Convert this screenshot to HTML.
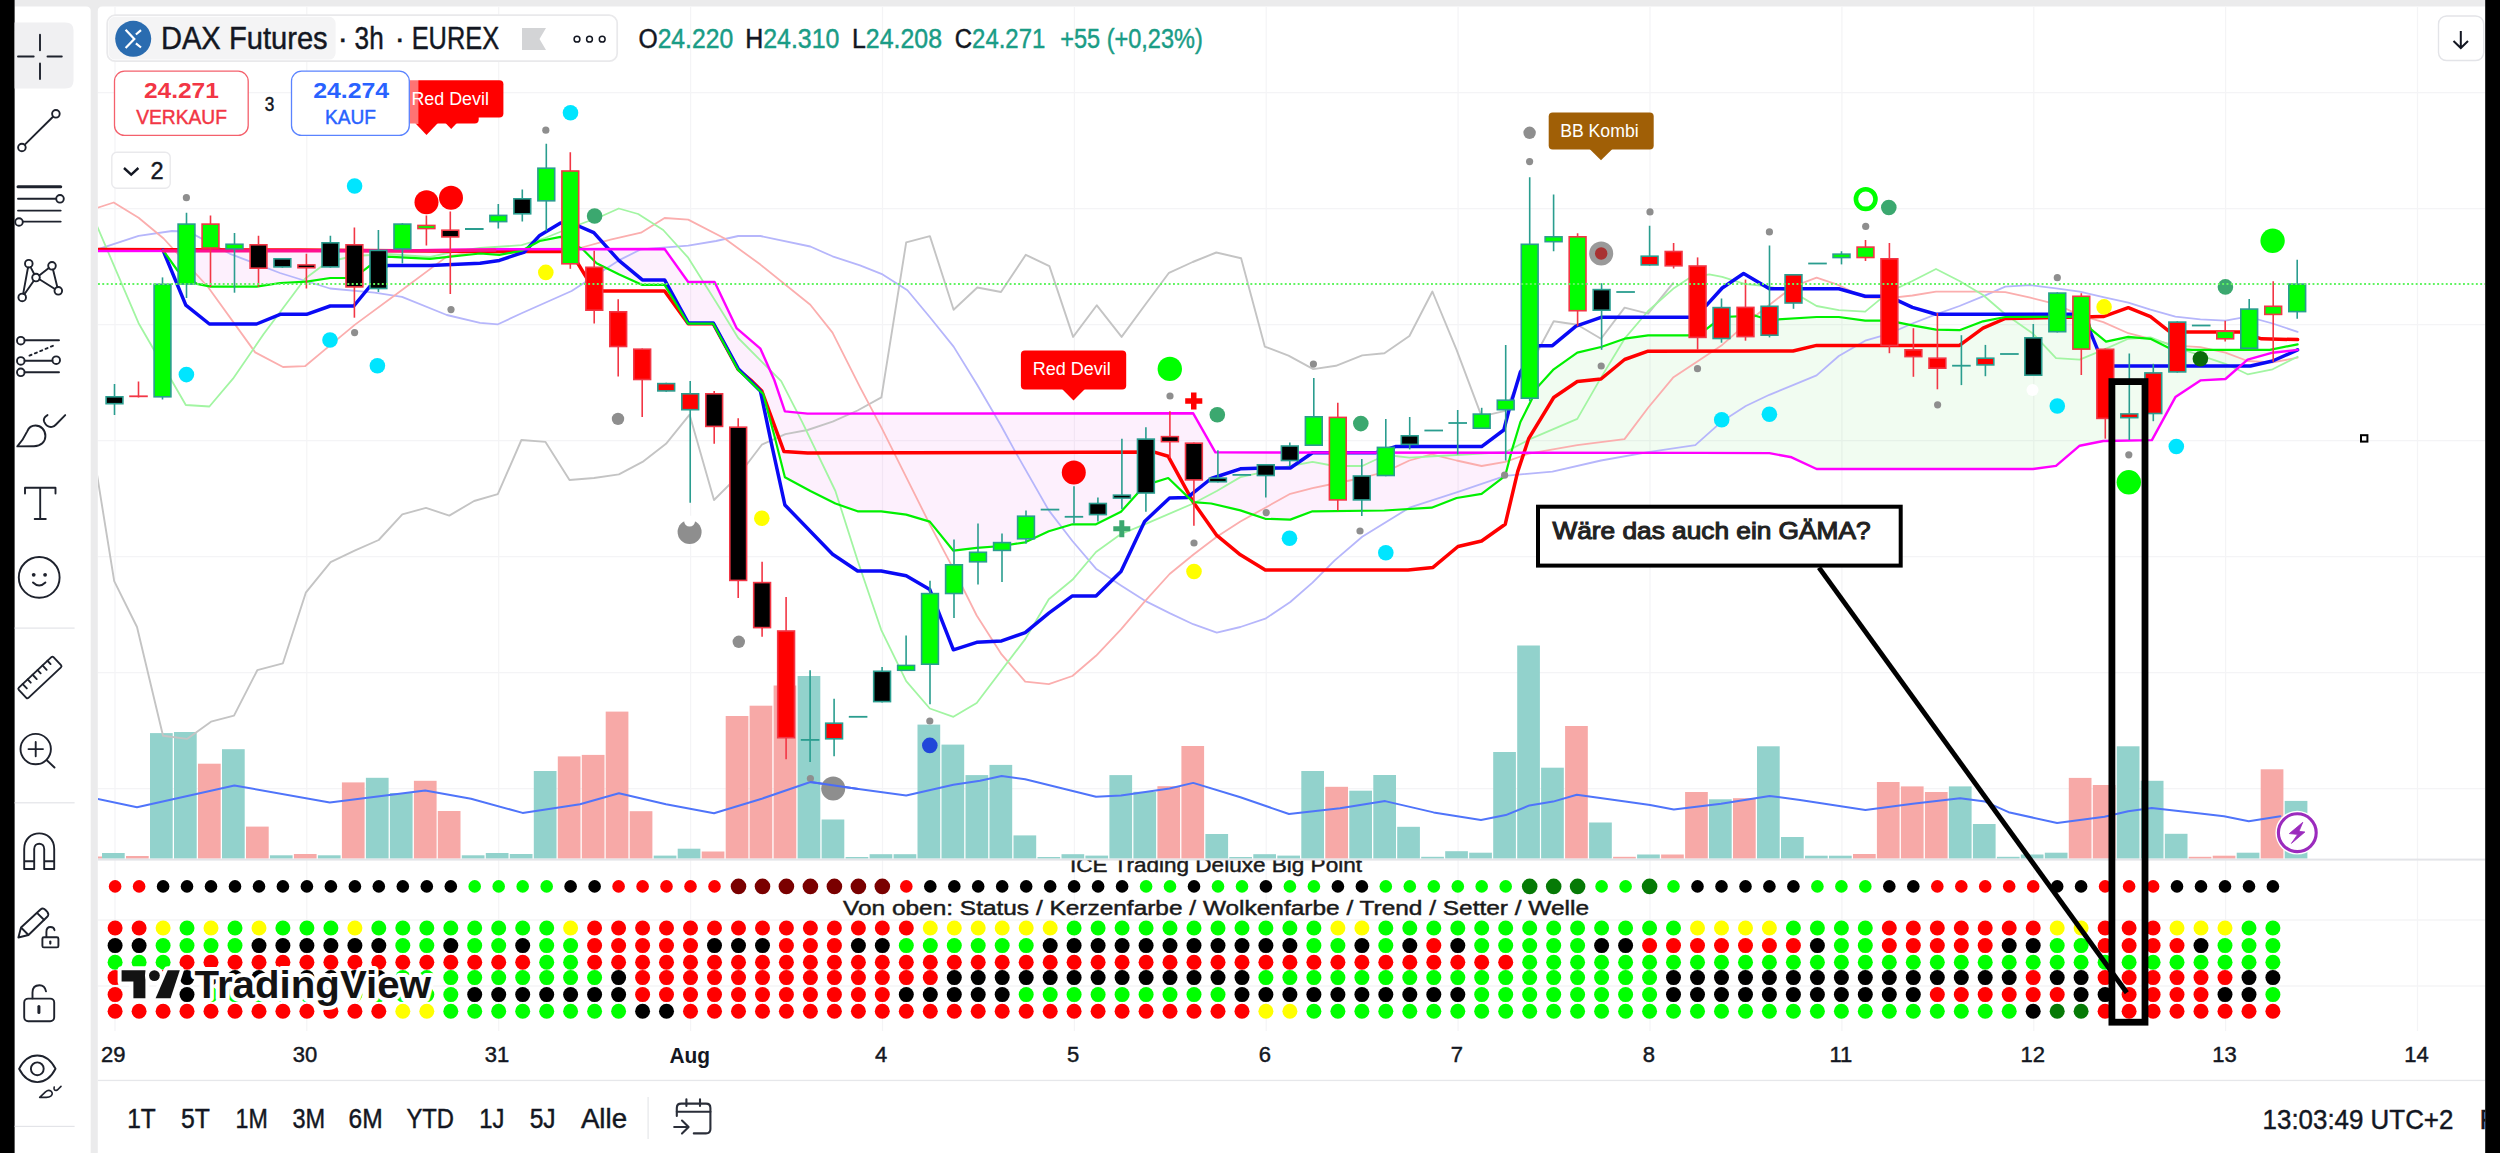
<!DOCTYPE html>
<html><head><meta charset="utf-8"><title>DAX Futures chart</title>
<style>html,body{margin:0;padding:0;background:#ebebec;overflow:hidden}svg{display:block}text{font-family:"Liberation Sans",sans-serif}</style>
</head><body>
<svg width="2500" height="1153" viewBox="0 0 2500 1153" font-family="Liberation Sans, sans-serif">
<rect x="0" y="0" width="2500" height="1153" fill="#ebebec"/>
<path d="M14.6 6.6 H86.2 Q90.7 6.6 90.7 11.1 V1153 H14.6 Z" fill="#fff"/>
<path d="M102.3 6.6 H2485.2 V1153 H97.8 V11.1 Q97.8 6.6 102.3 6.6 Z" fill="#fff"/>
<defs>
<clipPath id="main"><rect x="98" y="7" width="2387.2" height="852.5"/></clipPath>
<clipPath id="ind"><rect x="98" y="860.5" width="2387.2" height="170"/></clipPath>
<clipPath id="chart"><rect x="98" y="7" width="2387.2" height="1146"/></clipPath>
<clipPath id="belowM"><polygon points="97.0,251.0 380.0,250.7 495.0,249.2 664.6,249.0 688.2,282.0 714.6,282.0 736.8,328.4 760.4,348.7 774.3,380.0 784.9,411.4 807.6,413.6 1193.2,413.3 1215.4,452.4 1700.0,452.9 1769.4,453.1 1791.6,457.3 1816.6,469.0 2033.0,469.0 2056.0,465.9 2079.7,445.7 2103.3,441.0 2151.9,440.1 2175.4,397.1 2200.4,380.4 2225.4,379.0 2247.6,359.6 2272.6,352.7 2297.6,349.9 2297.6,900.0 97.0,900.0"/></clipPath>
<clipPath id="aboveM"><polygon points="97.0,251.0 380.0,250.7 495.0,249.2 664.6,249.0 688.2,282.0 714.6,282.0 736.8,328.4 760.4,348.7 774.3,380.0 784.9,411.4 807.6,413.6 1193.2,413.3 1215.4,452.4 1700.0,452.9 1769.4,453.1 1791.6,457.3 1816.6,469.0 2033.0,469.0 2056.0,465.9 2079.7,445.7 2103.3,441.0 2151.9,440.1 2175.4,397.1 2200.4,380.4 2225.4,379.0 2247.6,359.6 2272.6,352.7 2297.6,349.9 2297.6,0.0 97.0,0.0"/></clipPath>
</defs>
<g clip-path="url(#chart)">
<line x1="115.0" y1="7" x2="115.0" y2="1031" stroke="#f4f4f6" stroke-width="1.2"/>
<line x1="306.8" y1="7" x2="306.8" y2="1031" stroke="#f4f4f6" stroke-width="1.2"/>
<line x1="498.7" y1="7" x2="498.7" y2="1031" stroke="#f4f4f6" stroke-width="1.2"/>
<line x1="690.6" y1="7" x2="690.6" y2="1031" stroke="#f4f4f6" stroke-width="1.2"/>
<line x1="882.5" y1="7" x2="882.5" y2="1031" stroke="#f4f4f6" stroke-width="1.2"/>
<line x1="1074.4" y1="7" x2="1074.4" y2="1031" stroke="#f4f4f6" stroke-width="1.2"/>
<line x1="1266.2" y1="7" x2="1266.2" y2="1031" stroke="#f4f4f6" stroke-width="1.2"/>
<line x1="1458.1" y1="7" x2="1458.1" y2="1031" stroke="#f4f4f6" stroke-width="1.2"/>
<line x1="1650.0" y1="7" x2="1650.0" y2="1031" stroke="#f4f4f6" stroke-width="1.2"/>
<line x1="1841.9" y1="7" x2="1841.9" y2="1031" stroke="#f4f4f6" stroke-width="1.2"/>
<line x1="2033.8" y1="7" x2="2033.8" y2="1031" stroke="#f4f4f6" stroke-width="1.2"/>
<line x1="2225.6" y1="7" x2="2225.6" y2="1031" stroke="#f4f4f6" stroke-width="1.2"/>
<line x1="2417.5" y1="7" x2="2417.5" y2="1031" stroke="#f4f4f6" stroke-width="1.2"/>
<line x1="98" y1="92.6" x2="2485" y2="92.6" stroke="#f4f4f6" stroke-width="1.3"/>
<line x1="98" y1="208.6" x2="2485" y2="208.6" stroke="#f4f4f6" stroke-width="1.3"/>
<line x1="98" y1="324.6" x2="2485" y2="324.6" stroke="#f4f4f6" stroke-width="1.3"/>
<line x1="98" y1="440.6" x2="2485" y2="440.6" stroke="#f4f4f6" stroke-width="1.3"/>
<line x1="98" y1="556.6" x2="2485" y2="556.6" stroke="#f4f4f6" stroke-width="1.3"/>
<line x1="98" y1="672.6" x2="2485" y2="672.6" stroke="#f4f4f6" stroke-width="1.3"/>
<line x1="98" y1="788.6" x2="2485" y2="788.6" stroke="#f4f4f6" stroke-width="1.3"/>
<line x1="98" y1="920.0" x2="2485" y2="920.0" stroke="#f4f4f6" stroke-width="1.3"/>
<line x1="98" y1="986.0" x2="2485" y2="986.0" stroke="#f4f4f6" stroke-width="1.3"/>
</g>
<g clip-path="url(#main)">
<rect x="102.0" y="853.0" width="22.7" height="5.6" fill="#92d2cc"/>
<rect x="126.0" y="856.0" width="22.7" height="2.6" fill="#f7a9a7"/>
<rect x="150.0" y="733.1" width="22.7" height="125.5" fill="#92d2cc"/>
<rect x="174.0" y="732.0" width="22.7" height="126.6" fill="#92d2cc"/>
<rect x="198.0" y="763.7" width="22.7" height="94.9" fill="#f7a9a7"/>
<rect x="222.0" y="749.2" width="22.7" height="109.4" fill="#92d2cc"/>
<rect x="246.0" y="826.6" width="22.7" height="32.0" fill="#f7a9a7"/>
<rect x="269.9" y="855.3" width="22.7" height="3.3" fill="#92d2cc"/>
<rect x="293.9" y="854.0" width="22.7" height="4.6" fill="#f7a9a7"/>
<rect x="317.9" y="855.3" width="22.7" height="3.3" fill="#92d2cc"/>
<rect x="341.9" y="782.4" width="22.7" height="76.2" fill="#f7a9a7"/>
<rect x="365.9" y="777.8" width="22.7" height="80.8" fill="#92d2cc"/>
<rect x="389.9" y="793.0" width="22.7" height="65.6" fill="#92d2cc"/>
<rect x="413.9" y="780.8" width="22.7" height="77.8" fill="#f7a9a7"/>
<rect x="437.8" y="811.0" width="22.7" height="47.6" fill="#f7a9a7"/>
<rect x="461.8" y="855.3" width="22.7" height="3.3" fill="#92d2cc"/>
<rect x="485.8" y="853.0" width="22.7" height="5.6" fill="#92d2cc"/>
<rect x="509.8" y="854.0" width="22.7" height="4.6" fill="#92d2cc"/>
<rect x="533.8" y="771.0" width="22.7" height="87.6" fill="#92d2cc"/>
<rect x="557.8" y="756.4" width="22.7" height="102.2" fill="#f7a9a7"/>
<rect x="581.8" y="754.9" width="22.7" height="103.7" fill="#f7a9a7"/>
<rect x="605.7" y="711.6" width="22.7" height="147.0" fill="#f7a9a7"/>
<rect x="629.7" y="811.2" width="22.7" height="47.4" fill="#f7a9a7"/>
<rect x="653.7" y="855.6" width="22.7" height="3.0" fill="#92d2cc"/>
<rect x="677.7" y="848.7" width="22.7" height="9.9" fill="#92d2cc"/>
<rect x="701.7" y="851.5" width="22.7" height="7.1" fill="#f7a9a7"/>
<rect x="725.7" y="716.0" width="22.7" height="142.6" fill="#f7a9a7"/>
<rect x="749.6" y="705.7" width="22.7" height="152.9" fill="#f7a9a7"/>
<rect x="773.6" y="685.5" width="22.7" height="173.1" fill="#f7a9a7"/>
<rect x="797.6" y="676.0" width="22.7" height="182.6" fill="#92d2cc"/>
<rect x="821.6" y="819.5" width="22.7" height="39.1" fill="#92d2cc"/>
<rect x="845.6" y="857.0" width="22.7" height="1.6" fill="#92d2cc"/>
<rect x="869.6" y="854.2" width="22.7" height="4.4" fill="#92d2cc"/>
<rect x="893.6" y="854.2" width="22.7" height="4.4" fill="#92d2cc"/>
<rect x="917.5" y="724.6" width="22.7" height="134.0" fill="#92d2cc"/>
<rect x="941.5" y="744.6" width="22.7" height="114.0" fill="#92d2cc"/>
<rect x="965.5" y="775.1" width="22.7" height="83.5" fill="#92d2cc"/>
<rect x="989.5" y="764.9" width="22.7" height="93.7" fill="#92d2cc"/>
<rect x="1013.5" y="835.4" width="22.7" height="23.2" fill="#92d2cc"/>
<rect x="1037.5" y="857.0" width="22.7" height="1.6" fill="#92d2cc"/>
<rect x="1061.5" y="854.2" width="22.7" height="4.4" fill="#92d2cc"/>
<rect x="1085.4" y="855.6" width="22.7" height="3.0" fill="#92d2cc"/>
<rect x="1109.4" y="775.1" width="22.7" height="83.5" fill="#92d2cc"/>
<rect x="1133.4" y="791.8" width="22.7" height="66.8" fill="#92d2cc"/>
<rect x="1157.4" y="786.2" width="22.7" height="72.4" fill="#f7a9a7"/>
<rect x="1181.4" y="746.0" width="22.7" height="112.6" fill="#f7a9a7"/>
<rect x="1205.4" y="834.0" width="22.7" height="24.6" fill="#92d2cc"/>
<rect x="1229.3" y="857.0" width="22.7" height="1.6" fill="#92d2cc"/>
<rect x="1253.3" y="854.2" width="22.7" height="4.4" fill="#92d2cc"/>
<rect x="1277.3" y="855.6" width="22.7" height="3.0" fill="#92d2cc"/>
<rect x="1301.3" y="771.0" width="22.7" height="87.6" fill="#92d2cc"/>
<rect x="1325.3" y="786.8" width="22.7" height="71.8" fill="#f7a9a7"/>
<rect x="1349.3" y="790.7" width="22.7" height="67.9" fill="#92d2cc"/>
<rect x="1373.3" y="775.0" width="22.7" height="83.6" fill="#92d2cc"/>
<rect x="1397.2" y="826.8" width="22.7" height="31.8" fill="#92d2cc"/>
<rect x="1421.2" y="856.8" width="22.7" height="1.8" fill="#92d2cc"/>
<rect x="1445.2" y="851.2" width="22.7" height="7.4" fill="#92d2cc"/>
<rect x="1469.2" y="852.7" width="22.7" height="5.9" fill="#92d2cc"/>
<rect x="1493.2" y="752.0" width="22.7" height="106.6" fill="#92d2cc"/>
<rect x="1517.2" y="645.5" width="22.7" height="213.1" fill="#92d2cc"/>
<rect x="1541.1" y="767.7" width="22.7" height="90.9" fill="#92d2cc"/>
<rect x="1565.1" y="726.0" width="22.7" height="132.6" fill="#f7a9a7"/>
<rect x="1589.1" y="822.5" width="22.7" height="36.1" fill="#92d2cc"/>
<rect x="1613.1" y="856.8" width="22.7" height="1.8" fill="#f7a9a7"/>
<rect x="1637.1" y="854.5" width="22.7" height="4.1" fill="#92d2cc"/>
<rect x="1661.1" y="854.5" width="22.7" height="4.1" fill="#f7a9a7"/>
<rect x="1685.1" y="792.0" width="22.7" height="66.6" fill="#f7a9a7"/>
<rect x="1709.0" y="799.3" width="22.7" height="59.3" fill="#92d2cc"/>
<rect x="1733.0" y="798.2" width="22.7" height="60.4" fill="#f7a9a7"/>
<rect x="1757.0" y="746.3" width="22.7" height="112.3" fill="#92d2cc"/>
<rect x="1781.0" y="837.0" width="22.7" height="21.6" fill="#92d2cc"/>
<rect x="1805.0" y="855.7" width="22.7" height="2.9" fill="#92d2cc"/>
<rect x="1829.0" y="855.7" width="22.7" height="2.9" fill="#92d2cc"/>
<rect x="1853.0" y="854.0" width="22.7" height="4.6" fill="#f7a9a7"/>
<rect x="1876.9" y="782.0" width="22.7" height="76.6" fill="#f7a9a7"/>
<rect x="1900.9" y="786.4" width="22.7" height="72.2" fill="#f7a9a7"/>
<rect x="1924.9" y="792.0" width="22.7" height="66.6" fill="#f7a9a7"/>
<rect x="1948.9" y="786.4" width="22.7" height="72.2" fill="#92d2cc"/>
<rect x="1972.9" y="824.0" width="22.7" height="34.6" fill="#92d2cc"/>
<rect x="1996.9" y="856.8" width="22.7" height="1.8" fill="#92d2cc"/>
<rect x="2020.8" y="854.5" width="22.7" height="4.1" fill="#92d2cc"/>
<rect x="2044.8" y="852.7" width="22.7" height="5.9" fill="#92d2cc"/>
<rect x="2068.8" y="777.9" width="22.7" height="80.7" fill="#f7a9a7"/>
<rect x="2092.8" y="785.0" width="22.7" height="73.6" fill="#f7a9a7"/>
<rect x="2116.8" y="746.3" width="22.7" height="112.3" fill="#92d2cc"/>
<rect x="2140.8" y="780.8" width="22.7" height="77.8" fill="#92d2cc"/>
<rect x="2164.8" y="833.8" width="22.7" height="24.8" fill="#92d2cc"/>
<rect x="2188.7" y="856.8" width="22.7" height="1.8" fill="#f7a9a7"/>
<rect x="2212.7" y="855.7" width="22.7" height="2.9" fill="#f7a9a7"/>
<rect x="2236.7" y="852.7" width="22.7" height="5.9" fill="#92d2cc"/>
<rect x="2260.7" y="769.3" width="22.7" height="89.3" fill="#f7a9a7"/>
<rect x="2284.7" y="800.9" width="22.7" height="57.7" fill="#92d2cc"/>
<rect x="98" y="856.5" width="4" height="2.1" fill="#f7a9a7"/>
<polygon points="97.0,250.2 163.0,250.2 177.5,270.5 197.0,283.8 210.8,286.6 256.6,286.6 280.2,283.0 306.6,281.6 330.2,278.0 353.8,278.0 369.0,266.3 387.0,256.6 430.0,258.8 480.0,253.5 499.4,254.9 521.6,250.7 539.7,241.0 560.5,236.8 582.7,249.3 596.6,263.2 618.8,274.3 642.4,284.9 664.6,284.9 688.2,323.7 713.2,323.7 738.2,370.0 763.2,393.9 774.3,435.5 784.9,477.2 810.4,491.0 835.4,503.5 857.6,511.3 881.2,511.3 906.2,514.6 929.8,521.6 953.4,550.7 976.7,547.9 1001.6,546.0 1025.2,542.3 1048.8,531.2 1072.4,524.3 1096.0,524.3 1121.0,511.8 1144.6,485.4 1168.2,478.0 1193.2,502.1 1211.2,503.5 1240.4,510.4 1265.3,518.8 1290.3,519.6 1312.5,511.3 1384.4,510.5 1431.6,507.7 1456.6,498.0 1481.6,493.8 1505.2,475.8 1512.1,449.4 1520.4,422.0 1538.5,385.9 1553.7,369.3 1577.3,352.6 1601.0,347.0 1624.6,338.7 1648.1,335.4 1689.8,335.4 1700.0,333.8 1722.2,317.0 1755.5,315.7 1769.4,320.0 1816.6,317.0 1838.8,317.0 1865.2,320.7 1888.8,320.7 1912.4,325.4 1936.0,329.6 1959.5,330.2 1983.0,321.3 2005.3,317.0 2086.6,316.6 2090.8,329.1 2106.0,341.6 2128.3,336.9 2150.5,338.8 2169.9,348.5 2192.1,349.9 2269.8,349.9 2297.6,344.3 2297.6,349.9 2272.6,352.7 2247.6,359.6 2225.4,379.0 2200.4,380.4 2175.4,397.1 2151.9,440.1 2103.3,441.0 2079.7,445.7 2056.0,465.9 2033.0,469.0 1816.6,469.0 1791.6,457.3 1769.4,453.1 1700.0,452.9 1215.4,452.4 1193.2,413.3 807.6,413.6 784.9,411.4 774.3,380.0 760.4,348.7 736.8,328.4 714.6,282.0 688.2,282.0 664.6,249.0 495.0,249.2 380.0,250.7 97.0,251.0" fill="rgb(221,5,221)" fill-opacity="0.06" clip-path="url(#belowM)"/>
<polygon points="97.0,250.2 163.0,250.2 177.5,270.5 197.0,283.8 210.8,286.6 256.6,286.6 280.2,283.0 306.6,281.6 330.2,278.0 353.8,278.0 369.0,266.3 387.0,256.6 430.0,258.8 480.0,253.5 499.4,254.9 521.6,250.7 539.7,241.0 560.5,236.8 582.7,249.3 596.6,263.2 618.8,274.3 642.4,284.9 664.6,284.9 688.2,323.7 713.2,323.7 738.2,370.0 763.2,393.9 774.3,435.5 784.9,477.2 810.4,491.0 835.4,503.5 857.6,511.3 881.2,511.3 906.2,514.6 929.8,521.6 953.4,550.7 976.7,547.9 1001.6,546.0 1025.2,542.3 1048.8,531.2 1072.4,524.3 1096.0,524.3 1121.0,511.8 1144.6,485.4 1168.2,478.0 1193.2,502.1 1211.2,503.5 1240.4,510.4 1265.3,518.8 1290.3,519.6 1312.5,511.3 1384.4,510.5 1431.6,507.7 1456.6,498.0 1481.6,493.8 1505.2,475.8 1512.1,449.4 1520.4,422.0 1538.5,385.9 1553.7,369.3 1577.3,352.6 1601.0,347.0 1624.6,338.7 1648.1,335.4 1689.8,335.4 1700.0,333.8 1722.2,317.0 1755.5,315.7 1769.4,320.0 1816.6,317.0 1838.8,317.0 1865.2,320.7 1888.8,320.7 1912.4,325.4 1936.0,329.6 1959.5,330.2 1983.0,321.3 2005.3,317.0 2086.6,316.6 2090.8,329.1 2106.0,341.6 2128.3,336.9 2150.5,338.8 2169.9,348.5 2192.1,349.9 2269.8,349.9 2297.6,344.3 2297.6,349.9 2272.6,352.7 2247.6,359.6 2225.4,379.0 2200.4,380.4 2175.4,397.1 2151.9,440.1 2103.3,441.0 2079.7,445.7 2056.0,465.9 2033.0,469.0 1816.6,469.0 1791.6,457.3 1769.4,453.1 1700.0,452.9 1215.4,452.4 1193.2,413.3 807.6,413.6 784.9,411.4 774.3,380.0 760.4,348.7 736.8,328.4 714.6,282.0 688.2,282.0 664.6,249.0 495.0,249.2 380.0,250.7 97.0,251.0" fill="rgb(21,205,21)" fill-opacity="0.06" clip-path="url(#aboveM)"/>
<polyline points="97.0,474.4 114.2,581.2 137.0,627.0 163.0,735.8 187.0,738.9 211.0,721.7 234.0,715.6 257.3,670.2 282.9,663.3 305.8,592.7 330.6,562.1 354.6,550.7 378.7,540.0 402.3,514.4 426.0,507.9 449.3,515.6 474.1,501.0 497.8,494.2 521.4,440.0 545.5,441.9 569.5,480.0 594.0,478.0 618.9,474.4 642.5,461.9 666.0,443.8 689.6,414.7 714.0,500.0 738.2,475.8 761.8,444.7 785.4,434.1 807.6,430.0 832.6,421.6 857.6,410.5 881.4,397.3 906.2,242.4 929.9,236.1 953.6,309.8 977.3,287.5 1001.0,292.0 1025.8,254.8 1049.4,266.1 1073.1,336.9 1096.8,305.3 1121.6,336.9 1145.0,305.0 1169.0,272.8 1192.7,262.0 1216.3,252.5 1241.1,258.2 1264.8,346.6 1288.5,355.6 1313.3,369.1 1335.9,365.8 1362.2,355.4 1384.4,353.2 1409.4,336.0 1432.4,291.5 1456.6,349.8 1481.6,416.4 1505.2,410.9 1520.0,377.6 1538.5,349.8 1553.7,321.2 1577.3,324.8 1601.0,338.7 1624.6,307.6 1648.1,313.7 1673.1,283.2" fill="none" stroke="#c4c4c4" stroke-width="1.9" stroke-linejoin="round" stroke-linecap="round" />
<polyline points="97.0,249.6 138.6,235.8 172.0,231.0 188.6,231.6 230.0,253.8 280.0,273.0 330.0,288.5 374.6,292.7 402.0,296.8 446.8,315.0 480.0,322.9 498.0,324.3 521.6,313.2 571.6,291.0 618.8,260.4 641.0,249.3 688.2,245.7 716.0,241.0 738.2,236.0 760.4,236.0 810.3,246.5 832.5,256.3 860.0,265.4 882.6,274.4 907.4,290.2 929.9,317.3 953.6,346.6 977.3,385.0 1001.0,425.5 1015.5,452.1 1048.8,510.4 1072.4,541.0 1096.0,568.7 1121.0,585.4 1144.6,600.6 1169.6,613.1 1193.2,624.2 1216.8,632.6 1240.4,627.0 1265.3,618.7 1290.3,602.0 1312.5,582.6 1334.7,560.4 1362.2,536.8 1409.4,507.7 1456.6,492.4 1505.2,475.8 1552.4,471.6 1601.0,460.5 1648.1,452.2 1695.3,445.2 1722.2,421.2 1745.8,406.0 1769.4,394.8 1793.0,385.1 1816.6,375.4 1838.8,356.0 1865.2,340.7 1888.8,333.8 1912.4,323.5 1936.0,314.3 1959.5,306.0 1983.0,296.3 2005.3,286.6 2030.3,285.2 2056.0,288.3 2079.7,291.6 2103.3,297.2 2128.3,302.7 2150.5,309.7 2175.4,316.6 2200.4,319.4 2225.4,320.7 2247.6,316.6 2272.6,323.5 2297.6,331.9" fill="none" stroke="#b6b6fb" stroke-width="1.8" stroke-linejoin="round" stroke-linecap="round" />
<polyline points="97.0,208.0 113.7,202.5 138.6,217.7 163.6,238.5 208.0,287.0 255.2,352.4 283.0,367.0 305.0,366.2 330.0,345.4 355.0,324.6 402.0,290.0 446.8,256.6 480.0,250.7 521.6,251.5 580.0,248.0 610.5,239.6 641.0,232.7 664.6,218.0 688.2,219.6 724.3,238.2 760.4,264.6 810.3,304.8 832.5,332.6 860.0,387.2 881.2,427.2 906.2,477.2 929.8,524.3 953.4,568.8 976.7,615.5 1001.6,654.4 1025.2,681.6 1048.8,684.1 1072.4,676.0 1096.0,655.8 1121.0,629.4 1144.6,601.6 1169.6,574.0 1193.2,554.8 1216.8,536.8 1240.4,521.5 1265.3,507.7 1290.3,493.8 1312.5,488.2 1334.7,483.5 1362.0,478.0 1385.8,471.6 1409.4,460.5 1431.6,454.4 1456.6,460.5 1481.6,466.0 1505.2,461.9 1528.8,453.6 1577.3,445.2 1624.5,439.1 1648.1,407.8 1673.1,377.6 1698.1,360.9 1722.2,344.9 1755.5,315.7 1793.0,286.6 1816.6,277.7 1838.8,285.2 1865.2,297.7 1888.8,298.2 1912.4,295.5 1936.0,291.6 1983.0,291.6 2005.3,292.1 2030.3,297.7 2056.0,304.1 2079.7,315.2 2103.3,322.1 2128.3,333.2 2150.5,338.8 2175.4,345.7 2200.4,347.1 2225.4,352.7 2247.6,361.0 2272.6,362.4 2297.6,357.7" fill="none" stroke="#fbaeae" stroke-width="1.8" stroke-linejoin="round" stroke-linecap="round" />
<polyline points="97.0,226.0 138.6,323.2 185.8,405.0 209.4,406.5 233.0,378.7 263.5,334.3 305.0,278.8 327.4,262.0 353.8,256.0 387.0,254.0 430.0,257.0 452.0,252.0 480.0,248.0 521.6,245.2 545.0,238.0 570.0,228.0 602.0,216.0 618.8,208.5 638.2,214.0 663.2,230.0 688.2,257.7 716.0,302.0 738.2,338.0 760.4,360.4 781.2,381.2 802.0,421.6 835.4,491.0 857.6,560.4 881.2,629.8 906.2,681.2 929.8,708.5 953.4,716.8 976.7,703.0 1025.2,639.1 1048.8,599.3 1072.4,579.8 1096.0,552.0 1121.0,534.0 1144.6,524.3 1193.2,503.5 1216.8,491.0 1240.4,477.1 1265.3,471.6 1290.3,466.0 1312.5,461.9 1334.7,466.0 1362.2,466.0 1385.8,455.0 1409.4,457.7 1456.6,455.0 1505.2,452.2 1528.8,439.7 1577.3,418.9 1601.0,377.6 1624.6,338.7 1648.1,311.0 1673.1,288.8 1689.8,277.7 1709.2,274.3 1722.2,276.9 1744.4,283.8 1769.4,286.6 1793.0,292.1 1816.6,306.0 1838.8,310.2 1865.2,311.6 1888.8,292.1 1912.4,281.0 1936.0,269.0 1959.5,281.0 1983.0,295.0 2005.3,314.3 2032.5,333.2 2056.0,358.2 2079.7,359.6 2103.3,349.9 2128.3,338.8 2150.5,337.4 2175.4,347.1 2200.4,355.4 2225.4,363.8 2247.6,374.3 2272.6,369.3 2297.6,356.8" fill="none" stroke="#a2f5a2" stroke-width="1.8" stroke-linejoin="round" stroke-linecap="round" />
<polyline points="97.0,249.5 300.0,250.0 495.0,251.4 570.6,251.5 594.7,291.0 664.6,291.0 688.2,323.7 713.2,323.7 738.2,369.5 750.7,380.0 761.8,391.0 784.0,451.6 807.6,453.0 1154.3,452.1 1168.2,456.3 1193.2,502.1 1216.8,535.4 1240.4,554.8 1265.3,570.1 1408.0,570.1 1433.0,567.4 1458.0,546.5 1481.6,541.0 1505.2,524.3 1517.7,471.6 1528.8,438.3 1553.7,397.5 1577.3,381.5 1601.0,379.0 1624.6,359.5 1648.1,351.2 1793.0,351.0 1816.6,345.4 1959.5,345.4 1983.0,328.2 2005.3,318.5 2103.3,316.6 2128.3,307.7 2150.5,316.6 2169.9,331.9 2239.3,331.9 2261.5,338.8 2297.6,339.6" fill="none" stroke="#ff0000" stroke-width="3.5" stroke-linejoin="round" stroke-linecap="round" />
<polyline points="163.0,250.2 185.8,305.2 209.4,324.0 256.6,324.0 280.2,314.3 306.6,314.3 330.2,306.0 353.8,306.0 387.0,265.5 430.0,265.5 480.0,263.2 499.4,260.4 524.4,252.0 539.7,235.4 560.5,223.0 571.6,223.0 593.8,232.7 618.8,260.4 642.4,279.9 664.6,279.9 688.2,322.9 713.2,322.9 738.2,368.7 760.4,390.9 771.5,443.8 784.9,505.0 832.6,554.3 857.6,571.0 881.2,571.0 906.2,575.7 929.8,589.6 953.4,649.8 976.7,642.3 1001.6,640.9 1025.2,632.6 1048.8,613.1 1072.4,595.9 1096.0,595.9 1121.0,571.5 1144.6,521.5 1169.6,497.9 1187.6,497.4 1211.2,478.5 1240.4,468.8 1265.3,468.0 1290.3,468.0 1312.5,452.7 1376.0,452.7 1395.5,446.6 1481.6,446.6 1503.8,430.0 1509.0,410.0 1520.4,372.0 1538.5,345.7 1552.4,345.7 1576.0,326.2 1601.0,317.3 1689.8,317.3 1706.4,305.4 1722.2,288.0 1743.6,273.5 1769.4,288.8 1838.8,288.8 1865.2,296.3 1888.8,296.3 1912.4,307.4 1936.0,314.3 2086.0,314.3 2090.8,333.2 2097.7,349.9 2113.0,366.0 2250.4,366.0 2272.6,361.0 2297.6,349.9" fill="none" stroke="#0a0af5" stroke-width="3.5" stroke-linejoin="round" stroke-linecap="round" />
<polyline points="163.0,250.2 177.5,270.5 197.0,283.8 210.8,286.6 256.6,286.6 280.2,283.0 306.6,281.6 330.2,278.0 353.8,278.0 369.0,266.3 387.0,256.6 430.0,258.8 480.0,253.5 499.4,254.9 521.6,250.7 539.7,241.0 560.5,236.8 582.7,249.3 596.6,263.2 618.8,274.3 642.4,284.9 664.6,284.9 688.2,323.7 713.2,323.7 738.2,370.0 763.2,393.9 774.3,435.5 784.9,477.2 810.4,491.0 835.4,503.5 857.6,511.3 881.2,511.3 906.2,514.6 929.8,521.6 953.4,550.7 976.7,547.9 1001.6,546.0 1025.2,542.3 1048.8,531.2 1072.4,524.3 1096.0,524.3 1121.0,511.8 1144.6,485.4 1168.2,478.0 1193.2,502.1 1211.2,503.5 1240.4,510.4 1265.3,518.8 1290.3,519.6 1312.5,511.3 1384.4,510.5 1431.6,507.7 1456.6,498.0 1481.6,493.8 1505.2,475.8 1512.1,449.4 1520.4,422.0 1538.5,385.9 1553.7,369.3 1577.3,352.6 1601.0,347.0 1624.6,338.7 1648.1,335.4 1689.8,335.4 1700.0,333.8 1722.2,317.0 1755.5,315.7 1769.4,320.0 1816.6,317.0 1838.8,317.0 1865.2,320.7 1888.8,320.7 1912.4,325.4 1936.0,329.6 1959.5,330.2 1983.0,321.3 2005.3,317.0 2086.6,316.6 2090.8,329.1 2106.0,341.6 2128.3,336.9 2150.5,338.8 2169.9,348.5 2192.1,349.9 2269.8,349.9 2297.6,344.3" fill="none" stroke="#00f000" stroke-width="2.2" stroke-linejoin="round" stroke-linecap="round" />
<polyline points="97.0,251.0 380.0,250.7 495.0,249.2 664.6,249.0 688.2,282.0 714.6,282.0 736.8,328.4 760.4,348.7 774.3,380.0 784.9,411.4 807.6,413.6 1193.2,413.3 1215.4,452.4 1700.0,452.9 1769.4,453.1 1791.6,457.3 1816.6,469.0 2033.0,469.0 2056.0,465.9 2079.7,445.7 2103.3,441.0 2151.9,440.1 2175.4,397.1 2200.4,380.4 2225.4,379.0 2247.6,359.6 2272.6,352.7 2297.6,349.9" fill="none" stroke="#ff00ff" stroke-width="2.4" stroke-linejoin="round" stroke-linecap="round" />
<polyline points="163.0,251.0 380.0,250.8 495.0,250.2" fill="none" stroke="#ff1090" stroke-width="3.2" stroke-linejoin="round" stroke-linecap="round" />
<polyline points="97.0,798.8 137.0,807.2 234.4,785.4 329.8,802.6 425.2,790.4 471.0,798.8 522.6,812.9 580.0,804.3 618.9,793.2 666.0,804.3 714.0,813.2 761.8,798.7 810.4,782.0 858.4,789.0 906.2,795.4 953.4,784.8 980.0,780.7 1001.6,776.0 1025.2,779.3 1096.0,796.8 1121.0,795.4 1169.6,788.5 1193.2,782.9 1240.4,797.3 1289.0,814.0 1340.0,808.3 1385.1,801.1 1433.6,812.4 1481.0,820.0 1505.8,815.1 1529.4,805.4 1553.1,801.6 1576.8,794.8 1625.3,801.6 1650.1,804.9 1673.8,809.4 1721.1,803.8 1769.6,795.9 1800.0,800.0 1865.4,810.1 1912.8,803.8 1960.1,798.2 1985.0,801.6 2008.6,812.2 2057.1,823.0 2104.5,816.7 2128.2,811.3 2151.8,807.9 2200.3,813.5 2224.0,816.2 2248.8,821.2 2280.4,816.2" fill="none" stroke="#4f74fa" stroke-width="2" stroke-linejoin="round" stroke-linecap="round" />
<line x1="114.5" y1="384.0" x2="114.5" y2="415.0" stroke="#2a9d8f" stroke-width="1.6"/>
<rect x="106.1" y="396.8" width="16.8" height="6.9" fill="#000000" stroke="#2a9d8f" stroke-width="1.6"/>
<line x1="138.5" y1="381.5" x2="138.5" y2="397.5" stroke="#f23645" stroke-width="1.6"/>
<line x1="129.2" y1="396.3" x2="147.8" y2="396.3" stroke="#f23645" stroke-width="1.8"/>
<line x1="162.5" y1="277.4" x2="162.5" y2="399.5" stroke="#2a9d8f" stroke-width="1.6"/>
<rect x="154.1" y="284.3" width="16.8" height="112.5" fill="#00ff00" stroke="#2a9d8f" stroke-width="1.6"/>
<line x1="186.5" y1="212.7" x2="186.5" y2="298.0" stroke="#2a9d8f" stroke-width="1.6"/>
<rect x="178.1" y="224.1" width="16.8" height="60.0" fill="#00ff00" stroke="#2a9d8f" stroke-width="1.6"/>
<line x1="210.5" y1="215.5" x2="210.5" y2="287.0" stroke="#f23645" stroke-width="1.6"/>
<rect x="202.1" y="224.1" width="16.8" height="23.9" fill="#00ff00" stroke="#f23645" stroke-width="1.6"/>
<line x1="234.5" y1="233.0" x2="234.5" y2="292.7" stroke="#2a9d8f" stroke-width="1.6"/>
<rect x="226.0" y="244.2" width="17" height="4.6" fill="#00ff00" stroke="#2a9d8f" stroke-width="1.5"/>
<line x1="258.5" y1="235.8" x2="258.5" y2="287.0" stroke="#f23645" stroke-width="1.6"/>
<rect x="250.1" y="244.8" width="16.8" height="23.4" fill="#000000" stroke="#f23645" stroke-width="1.6"/>
<line x1="282.4" y1="258.0" x2="282.4" y2="267.7" stroke="#2a9d8f" stroke-width="1.6"/>
<rect x="274.0" y="258.8" width="16.8" height="8.1" fill="#000000" stroke="#2a9d8f" stroke-width="1.6"/>
<line x1="306.4" y1="253.8" x2="306.4" y2="288.5" stroke="#f23645" stroke-width="1.6"/>
<rect x="297.9" y="264.9" width="17" height="2.9" fill="#000000" stroke="#f23645" stroke-width="1.5"/>
<line x1="330.4" y1="235.8" x2="330.4" y2="267.7" stroke="#2a9d8f" stroke-width="1.6"/>
<rect x="322.0" y="242.8" width="16.8" height="24.1" fill="#000000" stroke="#2a9d8f" stroke-width="1.6"/>
<line x1="354.4" y1="227.4" x2="354.4" y2="317.7" stroke="#f23645" stroke-width="1.6"/>
<rect x="346.0" y="244.8" width="16.8" height="42.1" fill="#000000" stroke="#f23645" stroke-width="1.6"/>
<line x1="378.4" y1="230.0" x2="378.4" y2="292.0" stroke="#2a9d8f" stroke-width="1.6"/>
<rect x="370.0" y="250.4" width="16.8" height="38.1" fill="#000000" stroke="#2a9d8f" stroke-width="1.6"/>
<line x1="402.4" y1="223.3" x2="402.4" y2="263.5" stroke="#2a9d8f" stroke-width="1.6"/>
<rect x="394.0" y="224.1" width="16.8" height="24.7" fill="#00ff00" stroke="#2a9d8f" stroke-width="1.6"/>
<line x1="426.4" y1="215.5" x2="426.4" y2="245.5" stroke="#f23645" stroke-width="1.6"/>
<rect x="417.9" y="225.4" width="17" height="3.2" fill="#00ff00" stroke="#f23645" stroke-width="1.5"/>
<line x1="450.3" y1="211.6" x2="450.3" y2="294.0" stroke="#f23645" stroke-width="1.6"/>
<rect x="441.9" y="230.2" width="16.8" height="6.7" fill="#000000" stroke="#f23645" stroke-width="1.6"/>
<line x1="465.0" y1="229.0" x2="483.6" y2="229.0" stroke="#2a9d8f" stroke-width="1.8"/>
<line x1="498.3" y1="204.0" x2="498.3" y2="228.5" stroke="#2a9d8f" stroke-width="1.6"/>
<rect x="489.9" y="215.4" width="16.8" height="6.2" fill="#00ff00" stroke="#2a9d8f" stroke-width="1.6"/>
<line x1="522.3" y1="189.6" x2="522.3" y2="221.6" stroke="#2a9d8f" stroke-width="1.6"/>
<rect x="513.9" y="198.8" width="16.8" height="15.0" fill="#000000" stroke="#2a9d8f" stroke-width="1.6"/>
<line x1="546.3" y1="143.8" x2="546.3" y2="231.3" stroke="#2a9d8f" stroke-width="1.6"/>
<rect x="537.9" y="168.2" width="16.8" height="32.6" fill="#00ff00" stroke="#2a9d8f" stroke-width="1.6"/>
<line x1="570.3" y1="152.2" x2="570.3" y2="268.8" stroke="#f23645" stroke-width="1.6"/>
<rect x="561.9" y="171.0" width="16.8" height="92.8" fill="#00ff00" stroke="#f23645" stroke-width="1.6"/>
<line x1="594.2" y1="250.7" x2="594.2" y2="323.4" stroke="#f23645" stroke-width="1.6"/>
<rect x="585.9" y="267.3" width="16.8" height="42.9" fill="#ff0000" stroke="#f23645" stroke-width="1.6"/>
<line x1="618.2" y1="299.3" x2="618.2" y2="376.5" stroke="#f23645" stroke-width="1.6"/>
<rect x="609.8" y="311.8" width="16.8" height="34.7" fill="#ff0000" stroke="#f23645" stroke-width="1.6"/>
<line x1="642.2" y1="348.4" x2="642.2" y2="417.0" stroke="#f23645" stroke-width="1.6"/>
<rect x="633.8" y="349.2" width="16.8" height="30.3" fill="#ff0000" stroke="#f23645" stroke-width="1.6"/>
<line x1="666.2" y1="382.8" x2="666.2" y2="391.7" stroke="#2a9d8f" stroke-width="1.6"/>
<rect x="657.8" y="383.6" width="16.8" height="7.3" fill="#ff0000" stroke="#2a9d8f" stroke-width="1.6"/>
<line x1="690.2" y1="381.0" x2="690.2" y2="502.7" stroke="#2a9d8f" stroke-width="1.6"/>
<rect x="681.8" y="393.8" width="16.8" height="15.9" fill="#ff0000" stroke="#2a9d8f" stroke-width="1.6"/>
<line x1="714.2" y1="391.0" x2="714.2" y2="443.8" stroke="#f23645" stroke-width="1.6"/>
<rect x="705.8" y="393.8" width="16.8" height="32.6" fill="#000000" stroke="#f23645" stroke-width="1.6"/>
<line x1="738.2" y1="418.3" x2="738.2" y2="598.0" stroke="#f23645" stroke-width="1.6"/>
<rect x="729.8" y="427.2" width="16.8" height="153.2" fill="#000000" stroke="#f23645" stroke-width="1.6"/>
<line x1="762.1" y1="561.8" x2="762.1" y2="636.8" stroke="#f23645" stroke-width="1.6"/>
<rect x="753.7" y="582.6" width="16.8" height="45.0" fill="#000000" stroke="#f23645" stroke-width="1.6"/>
<line x1="786.1" y1="597.0" x2="786.1" y2="759.3" stroke="#f23645" stroke-width="1.6"/>
<rect x="777.7" y="631.0" width="16.8" height="106.7" fill="#ff0000" stroke="#f23645" stroke-width="1.6"/>
<line x1="810.1" y1="670.2" x2="810.1" y2="762.0" stroke="#2a9d8f" stroke-width="1.6"/>
<line x1="800.8" y1="739.9" x2="819.4" y2="739.9" stroke="#2a9d8f" stroke-width="1.8"/>
<line x1="834.1" y1="698.8" x2="834.1" y2="756.3" stroke="#2a9d8f" stroke-width="1.6"/>
<rect x="825.7" y="723.2" width="16.8" height="15.6" fill="#ff0000" stroke="#2a9d8f" stroke-width="1.6"/>
<line x1="848.8" y1="716.8" x2="867.4" y2="716.8" stroke="#2a9d8f" stroke-width="1.8"/>
<line x1="882.1" y1="666.9" x2="882.1" y2="702.4" stroke="#2a9d8f" stroke-width="1.6"/>
<rect x="873.7" y="671.3" width="16.8" height="30.3" fill="#000000" stroke="#2a9d8f" stroke-width="1.6"/>
<line x1="906.1" y1="635.5" x2="906.1" y2="671.0" stroke="#2a9d8f" stroke-width="1.6"/>
<rect x="897.6" y="665.4" width="17" height="4.9" fill="#00ff00" stroke="#2a9d8f" stroke-width="1.5"/>
<line x1="930.0" y1="580.8" x2="930.0" y2="704.3" stroke="#2a9d8f" stroke-width="1.6"/>
<rect x="921.6" y="593.6" width="16.8" height="70.6" fill="#00ff00" stroke="#2a9d8f" stroke-width="1.6"/>
<line x1="954.0" y1="539.6" x2="954.0" y2="618.0" stroke="#2a9d8f" stroke-width="1.6"/>
<rect x="945.6" y="564.8" width="16.8" height="28.7" fill="#00ff00" stroke="#2a9d8f" stroke-width="1.6"/>
<line x1="978.0" y1="523.5" x2="978.0" y2="584.5" stroke="#2a9d8f" stroke-width="1.6"/>
<rect x="969.6" y="552.3" width="16.8" height="9.5" fill="#00ff00" stroke="#2a9d8f" stroke-width="1.6"/>
<line x1="1002.0" y1="533.5" x2="1002.0" y2="582.0" stroke="#2a9d8f" stroke-width="1.6"/>
<rect x="993.6" y="542.6" width="16.8" height="7.8" fill="#00ff00" stroke="#2a9d8f" stroke-width="1.6"/>
<line x1="1026.0" y1="510.4" x2="1026.0" y2="543.7" stroke="#2a9d8f" stroke-width="1.6"/>
<rect x="1017.6" y="516.2" width="16.8" height="22.6" fill="#00ff00" stroke="#2a9d8f" stroke-width="1.6"/>
<line x1="1040.7" y1="509.6" x2="1059.3" y2="509.6" stroke="#2a9d8f" stroke-width="1.8"/>
<line x1="1074.0" y1="486.3" x2="1074.0" y2="523.5" stroke="#2a9d8f" stroke-width="1.6"/>
<line x1="1064.7" y1="516.8" x2="1083.2" y2="516.8" stroke="#2a9d8f" stroke-width="1.8"/>
<line x1="1097.9" y1="497.4" x2="1097.9" y2="521.5" stroke="#2a9d8f" stroke-width="1.6"/>
<rect x="1089.5" y="503.5" width="16.8" height="11.1" fill="#000000" stroke="#2a9d8f" stroke-width="1.6"/>
<line x1="1121.9" y1="438.8" x2="1121.9" y2="509.0" stroke="#2a9d8f" stroke-width="1.6"/>
<rect x="1113.4" y="495.1" width="17" height="3.0" fill="#000000" stroke="#2a9d8f" stroke-width="1.5"/>
<line x1="1145.9" y1="427.2" x2="1145.9" y2="511.8" stroke="#2a9d8f" stroke-width="1.6"/>
<rect x="1137.5" y="439.1" width="16.8" height="53.9" fill="#000000" stroke="#2a9d8f" stroke-width="1.6"/>
<line x1="1169.9" y1="411.3" x2="1169.9" y2="457.7" stroke="#f23645" stroke-width="1.6"/>
<rect x="1161.4" y="436.6" width="17" height="5.1" fill="#000000" stroke="#f23645" stroke-width="1.5"/>
<line x1="1193.9" y1="442.4" x2="1193.9" y2="525.7" stroke="#f23645" stroke-width="1.6"/>
<rect x="1185.5" y="443.2" width="16.8" height="36.7" fill="#000000" stroke="#f23645" stroke-width="1.6"/>
<line x1="1217.9" y1="450.2" x2="1217.9" y2="482.6" stroke="#2a9d8f" stroke-width="1.6"/>
<rect x="1209.4" y="478.1" width="17" height="3.7" fill="#000000" stroke="#2a9d8f" stroke-width="1.5"/>
<line x1="1232.5" y1="474.9" x2="1251.1" y2="474.9" stroke="#2a9d8f" stroke-width="1.8"/>
<line x1="1265.8" y1="464.0" x2="1265.8" y2="497.4" stroke="#2a9d8f" stroke-width="1.6"/>
<rect x="1257.4" y="464.8" width="16.8" height="10.7" fill="#000000" stroke="#2a9d8f" stroke-width="1.6"/>
<line x1="1289.8" y1="442.4" x2="1289.8" y2="466.0" stroke="#2a9d8f" stroke-width="1.6"/>
<rect x="1281.4" y="446.0" width="16.8" height="14.5" fill="#000000" stroke="#2a9d8f" stroke-width="1.6"/>
<line x1="1313.8" y1="378.0" x2="1313.8" y2="446.0" stroke="#2a9d8f" stroke-width="1.6"/>
<rect x="1305.4" y="416.8" width="16.8" height="28.4" fill="#00ff00" stroke="#2a9d8f" stroke-width="1.6"/>
<line x1="1337.8" y1="402.7" x2="1337.8" y2="510.4" stroke="#f23645" stroke-width="1.6"/>
<rect x="1329.4" y="417.4" width="16.8" height="82.5" fill="#00ff00" stroke="#f23645" stroke-width="1.6"/>
<line x1="1361.8" y1="459.0" x2="1361.8" y2="516.0" stroke="#2a9d8f" stroke-width="1.6"/>
<rect x="1353.4" y="476.0" width="16.8" height="23.9" fill="#000000" stroke="#2a9d8f" stroke-width="1.6"/>
<line x1="1385.8" y1="418.9" x2="1385.8" y2="476.3" stroke="#2a9d8f" stroke-width="1.6"/>
<rect x="1377.4" y="447.4" width="16.8" height="28.1" fill="#00ff00" stroke="#2a9d8f" stroke-width="1.6"/>
<line x1="1409.7" y1="417.0" x2="1409.7" y2="449.4" stroke="#2a9d8f" stroke-width="1.6"/>
<rect x="1401.3" y="435.8" width="16.8" height="8.6" fill="#000000" stroke="#2a9d8f" stroke-width="1.6"/>
<line x1="1424.4" y1="430.5" x2="1443.0" y2="430.5" stroke="#2a9d8f" stroke-width="1.8"/>
<line x1="1457.7" y1="410.0" x2="1457.7" y2="454.4" stroke="#2a9d8f" stroke-width="1.6"/>
<line x1="1448.4" y1="423.0" x2="1467.0" y2="423.0" stroke="#2a9d8f" stroke-width="1.8"/>
<line x1="1481.7" y1="407.8" x2="1481.7" y2="429.0" stroke="#2a9d8f" stroke-width="1.6"/>
<rect x="1473.3" y="414.1" width="16.8" height="14.1" fill="#00ff00" stroke="#2a9d8f" stroke-width="1.6"/>
<line x1="1505.7" y1="345.0" x2="1505.7" y2="460.5" stroke="#2a9d8f" stroke-width="1.6"/>
<rect x="1497.3" y="400.2" width="16.8" height="9.5" fill="#00ff00" stroke="#2a9d8f" stroke-width="1.6"/>
<line x1="1529.7" y1="177.2" x2="1529.7" y2="401.2" stroke="#2a9d8f" stroke-width="1.6"/>
<rect x="1521.3" y="244.3" width="16.8" height="153.9" fill="#00ff00" stroke="#2a9d8f" stroke-width="1.6"/>
<line x1="1553.6" y1="194.4" x2="1553.6" y2="251.3" stroke="#2a9d8f" stroke-width="1.6"/>
<rect x="1545.1" y="236.8" width="17" height="4.9" fill="#00ff00" stroke="#2a9d8f" stroke-width="1.5"/>
<line x1="1577.6" y1="233.2" x2="1577.6" y2="326.2" stroke="#f23645" stroke-width="1.6"/>
<rect x="1569.2" y="236.8" width="16.8" height="73.9" fill="#00ff00" stroke="#f23645" stroke-width="1.6"/>
<line x1="1601.6" y1="283.2" x2="1601.6" y2="349.8" stroke="#2a9d8f" stroke-width="1.6"/>
<rect x="1593.2" y="289.6" width="16.8" height="20.6" fill="#000000" stroke="#2a9d8f" stroke-width="1.6"/>
<line x1="1616.3" y1="292.0" x2="1634.9" y2="292.0" stroke="#2a9d8f" stroke-width="1.8"/>
<line x1="1649.6" y1="225.7" x2="1649.6" y2="265.7" stroke="#2a9d8f" stroke-width="1.6"/>
<rect x="1641.2" y="256.2" width="16.8" height="8.7" fill="#ff0000" stroke="#2a9d8f" stroke-width="1.6"/>
<line x1="1673.6" y1="243.0" x2="1673.6" y2="268.5" stroke="#f23645" stroke-width="1.6"/>
<rect x="1665.2" y="251.5" width="16.8" height="14.3" fill="#ff0000" stroke="#f23645" stroke-width="1.6"/>
<line x1="1697.6" y1="257.4" x2="1697.6" y2="349.8" stroke="#f23645" stroke-width="1.6"/>
<rect x="1689.2" y="266.0" width="16.8" height="71.4" fill="#ff0000" stroke="#f23645" stroke-width="1.6"/>
<line x1="1721.5" y1="298.5" x2="1721.5" y2="342.7" stroke="#2a9d8f" stroke-width="1.6"/>
<rect x="1713.1" y="307.6" width="16.8" height="30.9" fill="#ff0000" stroke="#2a9d8f" stroke-width="1.6"/>
<line x1="1745.5" y1="279.6" x2="1745.5" y2="340.7" stroke="#f23645" stroke-width="1.6"/>
<rect x="1737.1" y="307.4" width="16.8" height="29.2" fill="#ff0000" stroke="#f23645" stroke-width="1.6"/>
<line x1="1769.5" y1="245.5" x2="1769.5" y2="337.4" stroke="#2a9d8f" stroke-width="1.6"/>
<rect x="1761.1" y="306.3" width="16.8" height="28.9" fill="#ff0000" stroke="#2a9d8f" stroke-width="1.6"/>
<line x1="1793.5" y1="274.0" x2="1793.5" y2="308.8" stroke="#2a9d8f" stroke-width="1.6"/>
<rect x="1785.1" y="274.8" width="16.8" height="28.2" fill="#ff0000" stroke="#2a9d8f" stroke-width="1.6"/>
<line x1="1808.2" y1="263.5" x2="1826.8" y2="263.5" stroke="#2a9d8f" stroke-width="1.8"/>
<line x1="1841.5" y1="251.3" x2="1841.5" y2="264.4" stroke="#2a9d8f" stroke-width="1.6"/>
<rect x="1833.0" y="254.1" width="17" height="3.5" fill="#00ff00" stroke="#2a9d8f" stroke-width="1.5"/>
<line x1="1865.5" y1="240.0" x2="1865.5" y2="261.0" stroke="#f23645" stroke-width="1.6"/>
<rect x="1857.1" y="247.1" width="16.8" height="10.4" fill="#00ff00" stroke="#f23645" stroke-width="1.6"/>
<line x1="1889.4" y1="243.0" x2="1889.4" y2="353.2" stroke="#f23645" stroke-width="1.6"/>
<rect x="1881.0" y="258.8" width="16.8" height="86.7" fill="#ff0000" stroke="#f23645" stroke-width="1.6"/>
<line x1="1913.4" y1="328.2" x2="1913.4" y2="376.8" stroke="#f23645" stroke-width="1.6"/>
<rect x="1905.0" y="349.8" width="16.8" height="6.8" fill="#ff0000" stroke="#f23645" stroke-width="1.6"/>
<line x1="1937.4" y1="313.0" x2="1937.4" y2="389.3" stroke="#f23645" stroke-width="1.6"/>
<rect x="1929.0" y="358.2" width="16.8" height="10.0" fill="#ff0000" stroke="#f23645" stroke-width="1.6"/>
<line x1="1961.4" y1="335.2" x2="1961.4" y2="385.1" stroke="#2a9d8f" stroke-width="1.6"/>
<line x1="1952.1" y1="365.7" x2="1970.7" y2="365.7" stroke="#2a9d8f" stroke-width="1.8"/>
<line x1="1985.4" y1="344.9" x2="1985.4" y2="376.2" stroke="#2a9d8f" stroke-width="1.6"/>
<rect x="1977.0" y="358.2" width="16.8" height="6.7" fill="#ff0000" stroke="#2a9d8f" stroke-width="1.6"/>
<line x1="2000.1" y1="354.0" x2="2018.7" y2="354.0" stroke="#2a9d8f" stroke-width="1.8"/>
<line x1="2033.3" y1="324.0" x2="2033.3" y2="376.0" stroke="#2a9d8f" stroke-width="1.6"/>
<rect x="2024.9" y="337.8" width="16.8" height="37.4" fill="#000000" stroke="#2a9d8f" stroke-width="1.6"/>
<line x1="2057.3" y1="292.3" x2="2057.3" y2="332.5" stroke="#2a9d8f" stroke-width="1.6"/>
<rect x="2048.9" y="293.1" width="16.8" height="38.6" fill="#00ff00" stroke="#2a9d8f" stroke-width="1.6"/>
<line x1="2081.3" y1="293.2" x2="2081.3" y2="375.0" stroke="#f23645" stroke-width="1.6"/>
<rect x="2072.9" y="296.3" width="16.8" height="52.8" fill="#00ff00" stroke="#f23645" stroke-width="1.6"/>
<line x1="2105.3" y1="348.5" x2="2105.3" y2="438.7" stroke="#f23645" stroke-width="1.6"/>
<rect x="2096.9" y="349.3" width="16.8" height="69.1" fill="#ff0000" stroke="#f23645" stroke-width="1.6"/>
<line x1="2129.3" y1="353.5" x2="2129.3" y2="440.0" stroke="#2a9d8f" stroke-width="1.6"/>
<rect x="2120.8" y="413.9" width="17" height="3.8" fill="#ff0000" stroke="#2a9d8f" stroke-width="1.5"/>
<line x1="2153.3" y1="363.8" x2="2153.3" y2="421.2" stroke="#2a9d8f" stroke-width="1.6"/>
<rect x="2144.9" y="372.9" width="16.8" height="40.6" fill="#ff0000" stroke="#2a9d8f" stroke-width="1.6"/>
<line x1="2177.3" y1="321.3" x2="2177.3" y2="372.7" stroke="#2a9d8f" stroke-width="1.6"/>
<rect x="2168.9" y="322.1" width="16.8" height="49.8" fill="#ff0000" stroke="#2a9d8f" stroke-width="1.6"/>
<line x1="2191.9" y1="325.5" x2="2210.5" y2="325.5" stroke="#2a9d8f" stroke-width="1.8"/>
<line x1="2225.2" y1="320.7" x2="2225.2" y2="341.6" stroke="#f23645" stroke-width="1.6"/>
<rect x="2216.8" y="331.3" width="16.8" height="7.5" fill="#00ff00" stroke="#f23645" stroke-width="1.6"/>
<line x1="2249.2" y1="299.0" x2="2249.2" y2="349.0" stroke="#2a9d8f" stroke-width="1.6"/>
<rect x="2240.8" y="309.1" width="16.8" height="39.1" fill="#00ff00" stroke="#2a9d8f" stroke-width="1.6"/>
<line x1="2273.2" y1="281.3" x2="2273.2" y2="361.8" stroke="#f23645" stroke-width="1.6"/>
<rect x="2264.8" y="306.3" width="16.8" height="8.1" fill="#00ff00" stroke="#f23645" stroke-width="1.6"/>
<line x1="2297.2" y1="259.7" x2="2297.2" y2="318.8" stroke="#2a9d8f" stroke-width="1.6"/>
<rect x="2288.8" y="284.1" width="16.8" height="27.5" fill="#00ff00" stroke="#2a9d8f" stroke-width="1.6"/>
<circle cx="186.4" cy="197.7" r="3.6" fill="#8e8e8e" />
<circle cx="354.6" cy="332.6" r="3.6" fill="#8e8e8e" />
<circle cx="451.0" cy="309.6" r="3.6" fill="#8e8e8e" />
<circle cx="545.8" cy="130.2" r="3.6" fill="#8e8e8e" />
<circle cx="810.4" cy="778.5" r="3.6" fill="#8e8e8e" />
<circle cx="929.8" cy="721.0" r="3.6" fill="#8e8e8e" />
<circle cx="1170.0" cy="396.0" r="3.6" fill="#8e8e8e" />
<circle cx="1194.0" cy="543.0" r="3.6" fill="#8e8e8e" />
<circle cx="1266.2" cy="512.6" r="3.6" fill="#8e8e8e" />
<circle cx="1313.4" cy="364.1" r="3.6" fill="#8e8e8e" />
<circle cx="1360.0" cy="531.0" r="3.6" fill="#8e8e8e" />
<circle cx="1529.6" cy="161.6" r="3.6" fill="#8e8e8e" />
<circle cx="1650.0" cy="211.9" r="3.6" fill="#8e8e8e" />
<circle cx="1601.2" cy="366.0" r="3.6" fill="#8e8e8e" />
<circle cx="1697.5" cy="368.7" r="3.6" fill="#8e8e8e" />
<circle cx="1504.6" cy="475.2" r="3.6" fill="#8e8e8e" />
<circle cx="1865.7" cy="226.4" r="3.6" fill="#8e8e8e" />
<circle cx="1769.4" cy="231.9" r="3.6" fill="#8e8e8e" />
<circle cx="2057.3" cy="277.7" r="3.6" fill="#8e8e8e" />
<circle cx="1937.6" cy="404.8" r="3.6" fill="#8e8e8e" />
<circle cx="2128.8" cy="454.8" r="3.6" fill="#8e8e8e" />
<circle cx="618.0" cy="418.9" r="6.2" fill="#8e8e8e" />
<circle cx="738.8" cy="641.8" r="6.2" fill="#8e8e8e" />
<circle cx="1529.6" cy="132.8" r="6.2" fill="#8e8e8e" />
<circle cx="354.6" cy="186.0" r="7.8" fill="#00e5ff" />
<circle cx="186.4" cy="374.6" r="7.8" fill="#00e5ff" />
<circle cx="330.0" cy="340.0" r="7.8" fill="#00e5ff" />
<circle cx="377.4" cy="365.7" r="7.8" fill="#00e5ff" />
<circle cx="570.5" cy="112.8" r="7.8" fill="#00e5ff" />
<circle cx="1289.5" cy="538.2" r="7.8" fill="#00e5ff" />
<circle cx="1385.8" cy="552.7" r="7.8" fill="#00e5ff" />
<circle cx="1721.7" cy="419.8" r="7.8" fill="#00e5ff" />
<circle cx="1769.4" cy="414.3" r="7.8" fill="#00e5ff" />
<circle cx="2057.3" cy="406.0" r="7.8" fill="#00e5ff" />
<circle cx="2176.3" cy="446.5" r="7.8" fill="#00e5ff" />
<circle cx="545.8" cy="272.4" r="7.8" fill="#ffff00" />
<circle cx="761.8" cy="518.2" r="7.8" fill="#ffff00" />
<circle cx="1194.0" cy="571.5" r="7.8" fill="#ffff00" />
<circle cx="2104.1" cy="306.9" r="7.8" fill="#ffff00" />
<circle cx="594.6" cy="216.0" r="7.8" fill="#3ba86f" />
<circle cx="1217.3" cy="414.7" r="7.8" fill="#3ba86f" />
<circle cx="1360.8" cy="423.6" r="7.8" fill="#3ba86f" />
<circle cx="1888.8" cy="207.5" r="7.8" fill="#3ba86f" />
<circle cx="2225.4" cy="286.9" r="7.8" fill="#3ba86f" />
<circle cx="2200.4" cy="358.8" r="7.8" fill="#0b6a0b" />
<circle cx="426.5" cy="202.2" r="12" fill="#ff0000" />
<circle cx="451.0" cy="197.7" r="12" fill="#ff0000" />
<circle cx="1073.8" cy="472.4" r="12" fill="#ff0000" />
<circle cx="1169.8" cy="368.9" r="12.2" fill="#00ff00" />
<circle cx="2272.6" cy="240.8" r="12.2" fill="#00ff00" />
<circle cx="2128.8" cy="482.3" r="12.2" fill="#00ff00" />
<circle cx="689.6" cy="532.0" r="12" fill="#8e8e8e" />
<circle cx="689.6" cy="521.0" r="5.5" fill="#ffffff" />
<circle cx="833.2" cy="788.5" r="12" fill="#8e8e8e" />
<polyline points="810.4,782.0 858.4,789.0" fill="none" stroke="#4a6cf7" stroke-width="2" stroke-linejoin="round" stroke-linecap="round" />
<circle cx="1601.2" cy="253.5" r="12" fill="#9a9a9a" />
<circle cx="1601.2" cy="253.5" r="6.2" fill="#a83232" />
<circle cx="1865.7" cy="199.1" r="9.8" fill="none" stroke="#00ff00" stroke-width="4.6"/>
<circle cx="929.8" cy="745.4" r="7.8" fill="#2147d9" />
<circle cx="2032.5" cy="390.0" r="6" fill="#ffffff" />
<path d="M1191.0 392.5 h5.5 v5.8 h5.8 v5.5 h-5.8 v5.8 h-5.5 v-5.8 h-5.8 v-5.5 h5.8 Z" fill="#ff0000"/>
<path d="M1119.3 520.2 h5.0 v6.0 h6.0 v5.0 h-6.0 v6.0 h-5.0 v-6.0 h-6.0 v-5.0 h6.0 Z" fill="#3ba86f"/>
<rect x="2361" y="435.2" width="6.4" height="6.4" fill="#fff" stroke="#000" stroke-width="2"/>
<line x1="98" y1="284" x2="2485" y2="284" stroke="#60f460" stroke-width="2" stroke-dasharray="1.9 2.4"/>
<rect x="374.0" y="86.6" width="104.7" height="36.8" rx="4" fill="#ff0000"/>
<path d="M415.1 122.9 L426.5 134.9 L437.9 122.9 Z" fill="#ff0000"/>
<rect x="398.0" y="80.2" width="105.4" height="37.4" rx="4" fill="#ff0000"/>
<path d="M439.8 117.1 L451.2 129.1 L462.6 117.1 Z" fill="#ff0000"/>
<text x="450.2" y="104.8" font-size="18" fill="#fff" text-anchor="middle" textLength="77.5" lengthAdjust="spacingAndGlyphs">Red Devil</text>
<rect x="409" y="80" width="9.4" height="44" fill="#ffffff" opacity="0.45"/>
<rect x="1020.9" y="350.6" width="105.3" height="39.0" rx="4" fill="#ff0000"/>
<path d="M1062.1 389.1 L1073.5 400.6 L1084.9 389.1 Z" fill="#ff0000"/>
<text x="1071.8" y="375.1" font-size="18" fill="#fff" text-anchor="middle" textLength="78.1" lengthAdjust="spacingAndGlyphs">Red Devil</text>
<rect x="1548.7" y="112.5" width="105.0" height="36.9" rx="4" fill="#a05f06"/>
<path d="M1589.6 148.9 L1601.0 160.2 L1612.4 148.9 Z" fill="#a05f06"/>
<text x="1599.4" y="136.5" font-size="18" fill="#fff" text-anchor="middle" textLength="78.5" lengthAdjust="spacingAndGlyphs">BB Kombi</text>
</g>
<rect x="98" y="858.6" width="2387.2" height="2" fill="#e3e4e8"/>
<g clip-path="url(#ind)">
<text x="1216.0" y="871.5" font-size="20.5" fill="#1a1a1a" text-anchor="middle" font-weight="normal" textLength="292.0" lengthAdjust="spacingAndGlyphs" stroke="#1a1a1a" stroke-width="0.45" >ICE Trading Deluxe Big Point</text>
<text x="1216.0" y="914.8" font-size="20" fill="#1a1a1a" text-anchor="middle" font-weight="normal" textLength="746.0" lengthAdjust="spacingAndGlyphs" stroke="#1a1a1a" stroke-width="0.45" >Von oben: Status / Kerzenfarbe / Wolkenfarbe / Trend / Setter / Welle</text>
<circle cx="115.1" cy="886.4" r="6.3" fill="#ff0000" />
<circle cx="139.1" cy="886.4" r="6.3" fill="#ff0000" />
<circle cx="163.1" cy="886.4" r="6.3" fill="#000000" />
<circle cx="187.0" cy="886.4" r="6.3" fill="#000000" />
<circle cx="211.0" cy="886.4" r="6.3" fill="#000000" />
<circle cx="235.0" cy="886.4" r="6.3" fill="#000000" />
<circle cx="259.0" cy="886.4" r="6.3" fill="#000000" />
<circle cx="282.9" cy="886.4" r="6.3" fill="#000000" />
<circle cx="306.9" cy="886.4" r="6.3" fill="#000000" />
<circle cx="330.9" cy="886.4" r="6.3" fill="#000000" />
<circle cx="354.9" cy="886.4" r="6.3" fill="#000000" />
<circle cx="378.8" cy="886.4" r="6.3" fill="#000000" />
<circle cx="402.8" cy="886.4" r="6.3" fill="#000000" />
<circle cx="426.8" cy="886.4" r="6.3" fill="#000000" />
<circle cx="450.8" cy="886.4" r="6.3" fill="#000000" />
<circle cx="474.7" cy="886.4" r="6.3" fill="#00ff00" />
<circle cx="498.7" cy="886.4" r="6.3" fill="#00ff00" />
<circle cx="522.7" cy="886.4" r="6.3" fill="#00ff00" />
<circle cx="546.7" cy="886.4" r="6.3" fill="#00ff00" />
<circle cx="570.6" cy="886.4" r="6.3" fill="#000000" />
<circle cx="594.6" cy="886.4" r="6.3" fill="#000000" />
<circle cx="618.6" cy="886.4" r="6.3" fill="#ff0000" />
<circle cx="642.6" cy="886.4" r="6.3" fill="#ff0000" />
<circle cx="666.5" cy="886.4" r="6.3" fill="#ff0000" />
<circle cx="690.5" cy="886.4" r="6.3" fill="#ff0000" />
<circle cx="714.5" cy="886.4" r="6.3" fill="#ff0000" />
<circle cx="738.5" cy="886.4" r="7.8" fill="#7a0000" />
<circle cx="762.5" cy="886.4" r="7.8" fill="#7a0000" />
<circle cx="786.4" cy="886.4" r="7.8" fill="#7a0000" />
<circle cx="810.4" cy="886.4" r="7.8" fill="#7a0000" />
<circle cx="834.4" cy="886.4" r="7.8" fill="#7a0000" />
<circle cx="858.4" cy="886.4" r="7.8" fill="#7a0000" />
<circle cx="882.3" cy="886.4" r="7.8" fill="#7a0000" />
<circle cx="906.3" cy="886.4" r="6.3" fill="#ff0000" />
<circle cx="930.3" cy="886.4" r="6.3" fill="#000000" />
<circle cx="954.3" cy="886.4" r="6.3" fill="#000000" />
<circle cx="978.2" cy="886.4" r="6.3" fill="#000000" />
<circle cx="1002.2" cy="886.4" r="6.3" fill="#000000" />
<circle cx="1026.2" cy="886.4" r="6.3" fill="#000000" />
<circle cx="1050.2" cy="886.4" r="6.3" fill="#000000" />
<circle cx="1074.1" cy="886.4" r="6.3" fill="#000000" />
<circle cx="1098.1" cy="886.4" r="6.3" fill="#000000" />
<circle cx="1122.1" cy="886.4" r="6.3" fill="#000000" />
<circle cx="1146.1" cy="886.4" r="6.3" fill="#00ff00" />
<circle cx="1170.0" cy="886.4" r="6.3" fill="#00ff00" />
<circle cx="1194.0" cy="886.4" r="6.3" fill="#000000" />
<circle cx="1218.0" cy="886.4" r="6.3" fill="#00ff00" />
<circle cx="1242.0" cy="886.4" r="6.3" fill="#00ff00" />
<circle cx="1265.9" cy="886.4" r="6.3" fill="#000000" />
<circle cx="1289.9" cy="886.4" r="6.3" fill="#00ff00" />
<circle cx="1313.9" cy="886.4" r="6.3" fill="#00ff00" />
<circle cx="1337.9" cy="886.4" r="6.3" fill="#000000" />
<circle cx="1361.9" cy="886.4" r="6.3" fill="#000000" />
<circle cx="1385.8" cy="886.4" r="6.3" fill="#00ff00" />
<circle cx="1409.8" cy="886.4" r="6.3" fill="#00ff00" />
<circle cx="1433.8" cy="886.4" r="6.3" fill="#00ff00" />
<circle cx="1457.8" cy="886.4" r="6.3" fill="#00ff00" />
<circle cx="1481.7" cy="886.4" r="6.3" fill="#00ff00" />
<circle cx="1505.7" cy="886.4" r="6.3" fill="#00ff00" />
<circle cx="1529.7" cy="886.4" r="7.8" fill="#067a06" />
<circle cx="1553.7" cy="886.4" r="7.8" fill="#067a06" />
<circle cx="1577.6" cy="886.4" r="7.8" fill="#067a06" />
<circle cx="1601.6" cy="886.4" r="6.3" fill="#00ff00" />
<circle cx="1625.6" cy="886.4" r="6.3" fill="#00ff00" />
<circle cx="1649.6" cy="886.4" r="7.8" fill="#067a06" />
<circle cx="1673.5" cy="886.4" r="6.3" fill="#00ff00" />
<circle cx="1697.5" cy="886.4" r="6.3" fill="#000000" />
<circle cx="1721.5" cy="886.4" r="6.3" fill="#000000" />
<circle cx="1745.5" cy="886.4" r="6.3" fill="#000000" />
<circle cx="1769.4" cy="886.4" r="6.3" fill="#000000" />
<circle cx="1793.4" cy="886.4" r="6.3" fill="#000000" />
<circle cx="1817.4" cy="886.4" r="6.3" fill="#00ff00" />
<circle cx="1841.4" cy="886.4" r="6.3" fill="#00ff00" />
<circle cx="1865.3" cy="886.4" r="6.3" fill="#00ff00" />
<circle cx="1889.3" cy="886.4" r="6.3" fill="#000000" />
<circle cx="1913.3" cy="886.4" r="6.3" fill="#000000" />
<circle cx="1937.3" cy="886.4" r="6.3" fill="#ff0000" />
<circle cx="1961.3" cy="886.4" r="6.3" fill="#ff0000" />
<circle cx="1985.2" cy="886.4" r="6.3" fill="#ff0000" />
<circle cx="2009.2" cy="886.4" r="6.3" fill="#ff0000" />
<circle cx="2033.2" cy="886.4" r="6.3" fill="#ff0000" />
<circle cx="2057.2" cy="886.4" r="6.3" fill="#000000" />
<circle cx="2081.1" cy="886.4" r="6.3" fill="#000000" />
<circle cx="2105.1" cy="886.4" r="6.3" fill="#ff0000" />
<circle cx="2129.1" cy="886.4" r="6.3" fill="#ff0000" />
<circle cx="2153.1" cy="886.4" r="6.3" fill="#ff0000" />
<circle cx="2177.0" cy="886.4" r="6.3" fill="#000000" />
<circle cx="2201.0" cy="886.4" r="6.3" fill="#000000" />
<circle cx="2225.0" cy="886.4" r="6.3" fill="#000000" />
<circle cx="2249.0" cy="886.4" r="6.3" fill="#000000" />
<circle cx="2272.9" cy="886.4" r="6.3" fill="#000000" />
<circle cx="115.1" cy="928.0" r="7.5" fill="#ff0000" />
<circle cx="139.1" cy="928.0" r="7.5" fill="#ff0000" />
<circle cx="163.1" cy="928.0" r="7.5" fill="#ffff00" />
<circle cx="187.0" cy="928.0" r="7.5" fill="#00ff00" />
<circle cx="211.0" cy="928.0" r="7.5" fill="#ffff00" />
<circle cx="235.0" cy="928.0" r="7.5" fill="#00ff00" />
<circle cx="259.0" cy="928.0" r="7.5" fill="#ffff00" />
<circle cx="282.9" cy="928.0" r="7.5" fill="#00ff00" />
<circle cx="306.9" cy="928.0" r="7.5" fill="#00ff00" />
<circle cx="330.9" cy="928.0" r="7.5" fill="#00ff00" />
<circle cx="354.9" cy="928.0" r="7.5" fill="#ffff00" />
<circle cx="378.8" cy="928.0" r="7.5" fill="#00ff00" />
<circle cx="402.8" cy="928.0" r="7.5" fill="#00ff00" />
<circle cx="426.8" cy="928.0" r="7.5" fill="#00ff00" />
<circle cx="450.8" cy="928.0" r="7.5" fill="#00ff00" />
<circle cx="474.7" cy="928.0" r="7.5" fill="#00ff00" />
<circle cx="498.7" cy="928.0" r="7.5" fill="#00ff00" />
<circle cx="522.7" cy="928.0" r="7.5" fill="#00ff00" />
<circle cx="546.7" cy="928.0" r="7.5" fill="#00ff00" />
<circle cx="570.6" cy="928.0" r="7.5" fill="#ffff00" />
<circle cx="594.6" cy="928.0" r="7.5" fill="#ff0000" />
<circle cx="618.6" cy="928.0" r="7.5" fill="#ff0000" />
<circle cx="642.6" cy="928.0" r="7.5" fill="#ff0000" />
<circle cx="666.5" cy="928.0" r="7.5" fill="#ff0000" />
<circle cx="690.5" cy="928.0" r="7.5" fill="#ff0000" />
<circle cx="714.5" cy="928.0" r="7.5" fill="#ff0000" />
<circle cx="738.5" cy="928.0" r="7.5" fill="#ff0000" />
<circle cx="762.5" cy="928.0" r="7.5" fill="#ff0000" />
<circle cx="786.4" cy="928.0" r="7.5" fill="#ff0000" />
<circle cx="810.4" cy="928.0" r="7.5" fill="#ff0000" />
<circle cx="834.4" cy="928.0" r="7.5" fill="#ff0000" />
<circle cx="858.4" cy="928.0" r="7.5" fill="#ff0000" />
<circle cx="882.3" cy="928.0" r="7.5" fill="#ff0000" />
<circle cx="906.3" cy="928.0" r="7.5" fill="#ff0000" />
<circle cx="930.3" cy="928.0" r="7.5" fill="#ffff00" />
<circle cx="954.3" cy="928.0" r="7.5" fill="#ffff00" />
<circle cx="978.2" cy="928.0" r="7.5" fill="#ffff00" />
<circle cx="1002.2" cy="928.0" r="7.5" fill="#ffff00" />
<circle cx="1026.2" cy="928.0" r="7.5" fill="#ffff00" />
<circle cx="1050.2" cy="928.0" r="7.5" fill="#ffff00" />
<circle cx="1074.1" cy="928.0" r="7.5" fill="#00ff00" />
<circle cx="1098.1" cy="928.0" r="7.5" fill="#00ff00" />
<circle cx="1122.1" cy="928.0" r="7.5" fill="#00ff00" />
<circle cx="1146.1" cy="928.0" r="7.5" fill="#00ff00" />
<circle cx="1170.0" cy="928.0" r="7.5" fill="#00ff00" />
<circle cx="1194.0" cy="928.0" r="7.5" fill="#00ff00" />
<circle cx="1218.0" cy="928.0" r="7.5" fill="#00ff00" />
<circle cx="1242.0" cy="928.0" r="7.5" fill="#00ff00" />
<circle cx="1265.9" cy="928.0" r="7.5" fill="#00ff00" />
<circle cx="1289.9" cy="928.0" r="7.5" fill="#00ff00" />
<circle cx="1313.9" cy="928.0" r="7.5" fill="#00ff00" />
<circle cx="1337.9" cy="928.0" r="7.5" fill="#ffff00" />
<circle cx="1361.9" cy="928.0" r="7.5" fill="#ffff00" />
<circle cx="1385.8" cy="928.0" r="7.5" fill="#00ff00" />
<circle cx="1409.8" cy="928.0" r="7.5" fill="#00ff00" />
<circle cx="1433.8" cy="928.0" r="7.5" fill="#00ff00" />
<circle cx="1457.8" cy="928.0" r="7.5" fill="#00ff00" />
<circle cx="1481.7" cy="928.0" r="7.5" fill="#00ff00" />
<circle cx="1505.7" cy="928.0" r="7.5" fill="#00ff00" />
<circle cx="1529.7" cy="928.0" r="7.5" fill="#00ff00" />
<circle cx="1553.7" cy="928.0" r="7.5" fill="#00ff00" />
<circle cx="1577.6" cy="928.0" r="7.5" fill="#00ff00" />
<circle cx="1601.6" cy="928.0" r="7.5" fill="#00ff00" />
<circle cx="1625.6" cy="928.0" r="7.5" fill="#00ff00" />
<circle cx="1649.6" cy="928.0" r="7.5" fill="#00ff00" />
<circle cx="1673.5" cy="928.0" r="7.5" fill="#00ff00" />
<circle cx="1697.5" cy="928.0" r="7.5" fill="#ffff00" />
<circle cx="1721.5" cy="928.0" r="7.5" fill="#ffff00" />
<circle cx="1745.5" cy="928.0" r="7.5" fill="#ffff00" />
<circle cx="1769.4" cy="928.0" r="7.5" fill="#ffff00" />
<circle cx="1793.4" cy="928.0" r="7.5" fill="#00ff00" />
<circle cx="1817.4" cy="928.0" r="7.5" fill="#00ff00" />
<circle cx="1841.4" cy="928.0" r="7.5" fill="#00ff00" />
<circle cx="1865.3" cy="928.0" r="7.5" fill="#00ff00" />
<circle cx="1889.3" cy="928.0" r="7.5" fill="#ff0000" />
<circle cx="1913.3" cy="928.0" r="7.5" fill="#ff0000" />
<circle cx="1937.3" cy="928.0" r="7.5" fill="#ff0000" />
<circle cx="1961.3" cy="928.0" r="7.5" fill="#ff0000" />
<circle cx="1985.2" cy="928.0" r="7.5" fill="#ff0000" />
<circle cx="2009.2" cy="928.0" r="7.5" fill="#ff0000" />
<circle cx="2033.2" cy="928.0" r="7.5" fill="#ff0000" />
<circle cx="2057.2" cy="928.0" r="7.5" fill="#ffff00" />
<circle cx="2081.1" cy="928.0" r="7.5" fill="#ffff00" />
<circle cx="2105.1" cy="928.0" r="7.5" fill="#ff0000" />
<circle cx="2129.1" cy="928.0" r="7.5" fill="#ff0000" />
<circle cx="2153.1" cy="928.0" r="7.5" fill="#ff0000" />
<circle cx="2177.0" cy="928.0" r="7.5" fill="#ffff00" />
<circle cx="2201.0" cy="928.0" r="7.5" fill="#ffff00" />
<circle cx="2225.0" cy="928.0" r="7.5" fill="#ffff00" />
<circle cx="2249.0" cy="928.0" r="7.5" fill="#00ff00" />
<circle cx="2272.9" cy="928.0" r="7.5" fill="#00ff00" />
<circle cx="115.1" cy="945.6" r="7.5" fill="#000000" />
<circle cx="139.1" cy="945.6" r="7.5" fill="#000000" />
<circle cx="163.1" cy="945.6" r="7.5" fill="#00ff00" />
<circle cx="187.0" cy="945.6" r="7.5" fill="#00ff00" />
<circle cx="211.0" cy="945.6" r="7.5" fill="#00ff00" />
<circle cx="235.0" cy="945.6" r="7.5" fill="#00ff00" />
<circle cx="259.0" cy="945.6" r="7.5" fill="#000000" />
<circle cx="282.9" cy="945.6" r="7.5" fill="#000000" />
<circle cx="306.9" cy="945.6" r="7.5" fill="#000000" />
<circle cx="330.9" cy="945.6" r="7.5" fill="#000000" />
<circle cx="354.9" cy="945.6" r="7.5" fill="#000000" />
<circle cx="378.8" cy="945.6" r="7.5" fill="#000000" />
<circle cx="402.8" cy="945.6" r="7.5" fill="#00ff00" />
<circle cx="426.8" cy="945.6" r="7.5" fill="#00ff00" />
<circle cx="450.8" cy="945.6" r="7.5" fill="#000000" />
<circle cx="474.7" cy="945.6" r="7.5" fill="#00ff00" />
<circle cx="498.7" cy="945.6" r="7.5" fill="#00ff00" />
<circle cx="522.7" cy="945.6" r="7.5" fill="#000000" />
<circle cx="546.7" cy="945.6" r="7.5" fill="#00ff00" />
<circle cx="570.6" cy="945.6" r="7.5" fill="#00ff00" />
<circle cx="594.6" cy="945.6" r="7.5" fill="#ff0000" />
<circle cx="618.6" cy="945.6" r="7.5" fill="#ff0000" />
<circle cx="642.6" cy="945.6" r="7.5" fill="#ff0000" />
<circle cx="666.5" cy="945.6" r="7.5" fill="#ff0000" />
<circle cx="690.5" cy="945.6" r="7.5" fill="#ff0000" />
<circle cx="714.5" cy="945.6" r="7.5" fill="#000000" />
<circle cx="738.5" cy="945.6" r="7.5" fill="#000000" />
<circle cx="762.5" cy="945.6" r="7.5" fill="#000000" />
<circle cx="786.4" cy="945.6" r="7.5" fill="#ff0000" />
<circle cx="810.4" cy="945.6" r="7.5" fill="#ff0000" />
<circle cx="834.4" cy="945.6" r="7.5" fill="#ff0000" />
<circle cx="858.4" cy="945.6" r="7.5" fill="#000000" />
<circle cx="882.3" cy="945.6" r="7.5" fill="#000000" />
<circle cx="906.3" cy="945.6" r="7.5" fill="#00ff00" />
<circle cx="930.3" cy="945.6" r="7.5" fill="#00ff00" />
<circle cx="954.3" cy="945.6" r="7.5" fill="#00ff00" />
<circle cx="978.2" cy="945.6" r="7.5" fill="#00ff00" />
<circle cx="1002.2" cy="945.6" r="7.5" fill="#00ff00" />
<circle cx="1026.2" cy="945.6" r="7.5" fill="#00ff00" />
<circle cx="1050.2" cy="945.6" r="7.5" fill="#000000" />
<circle cx="1074.1" cy="945.6" r="7.5" fill="#000000" />
<circle cx="1098.1" cy="945.6" r="7.5" fill="#000000" />
<circle cx="1122.1" cy="945.6" r="7.5" fill="#000000" />
<circle cx="1146.1" cy="945.6" r="7.5" fill="#000000" />
<circle cx="1170.0" cy="945.6" r="7.5" fill="#000000" />
<circle cx="1194.0" cy="945.6" r="7.5" fill="#000000" />
<circle cx="1218.0" cy="945.6" r="7.5" fill="#000000" />
<circle cx="1242.0" cy="945.6" r="7.5" fill="#000000" />
<circle cx="1265.9" cy="945.6" r="7.5" fill="#000000" />
<circle cx="1289.9" cy="945.6" r="7.5" fill="#000000" />
<circle cx="1313.9" cy="945.6" r="7.5" fill="#00ff00" />
<circle cx="1337.9" cy="945.6" r="7.5" fill="#00ff00" />
<circle cx="1361.9" cy="945.6" r="7.5" fill="#000000" />
<circle cx="1385.8" cy="945.6" r="7.5" fill="#00ff00" />
<circle cx="1409.8" cy="945.6" r="7.5" fill="#000000" />
<circle cx="1433.8" cy="945.6" r="7.5" fill="#ff0000" />
<circle cx="1457.8" cy="945.6" r="7.5" fill="#000000" />
<circle cx="1481.7" cy="945.6" r="7.5" fill="#00ff00" />
<circle cx="1505.7" cy="945.6" r="7.5" fill="#00ff00" />
<circle cx="1529.7" cy="945.6" r="7.5" fill="#00ff00" />
<circle cx="1553.7" cy="945.6" r="7.5" fill="#00ff00" />
<circle cx="1577.6" cy="945.6" r="7.5" fill="#00ff00" />
<circle cx="1601.6" cy="945.6" r="7.5" fill="#000000" />
<circle cx="1625.6" cy="945.6" r="7.5" fill="#000000" />
<circle cx="1649.6" cy="945.6" r="7.5" fill="#ff0000" />
<circle cx="1673.5" cy="945.6" r="7.5" fill="#ff0000" />
<circle cx="1697.5" cy="945.6" r="7.5" fill="#ff0000" />
<circle cx="1721.5" cy="945.6" r="7.5" fill="#ff0000" />
<circle cx="1745.5" cy="945.6" r="7.5" fill="#ff0000" />
<circle cx="1769.4" cy="945.6" r="7.5" fill="#ff0000" />
<circle cx="1793.4" cy="945.6" r="7.5" fill="#ff0000" />
<circle cx="1817.4" cy="945.6" r="7.5" fill="#000000" />
<circle cx="1841.4" cy="945.6" r="7.5" fill="#00ff00" />
<circle cx="1865.3" cy="945.6" r="7.5" fill="#00ff00" />
<circle cx="1889.3" cy="945.6" r="7.5" fill="#ff0000" />
<circle cx="1913.3" cy="945.6" r="7.5" fill="#ff0000" />
<circle cx="1937.3" cy="945.6" r="7.5" fill="#ff0000" />
<circle cx="1961.3" cy="945.6" r="7.5" fill="#ff0000" />
<circle cx="1985.2" cy="945.6" r="7.5" fill="#ff0000" />
<circle cx="2009.2" cy="945.6" r="7.5" fill="#000000" />
<circle cx="2033.2" cy="945.6" r="7.5" fill="#000000" />
<circle cx="2057.2" cy="945.6" r="7.5" fill="#00ff00" />
<circle cx="2081.1" cy="945.6" r="7.5" fill="#00ff00" />
<circle cx="2105.1" cy="945.6" r="7.5" fill="#ff0000" />
<circle cx="2129.1" cy="945.6" r="7.5" fill="#ff0000" />
<circle cx="2153.1" cy="945.6" r="7.5" fill="#ff0000" />
<circle cx="2177.0" cy="945.6" r="7.5" fill="#ff0000" />
<circle cx="2201.0" cy="945.6" r="7.5" fill="#000000" />
<circle cx="2225.0" cy="945.6" r="7.5" fill="#00ff00" />
<circle cx="2249.0" cy="945.6" r="7.5" fill="#00ff00" />
<circle cx="2272.9" cy="945.6" r="7.5" fill="#00ff00" />
<circle cx="115.1" cy="962.2" r="7.5" fill="#00ff00" />
<circle cx="139.1" cy="962.2" r="7.5" fill="#00ff00" />
<circle cx="163.1" cy="962.2" r="7.5" fill="#00ff00" />
<circle cx="187.0" cy="962.2" r="7.5" fill="#ff0000" />
<circle cx="211.0" cy="962.2" r="7.5" fill="#ff0000" />
<circle cx="235.0" cy="962.2" r="7.5" fill="#ff0000" />
<circle cx="259.0" cy="962.2" r="7.5" fill="#ff0000" />
<circle cx="282.9" cy="962.2" r="7.5" fill="#ff0000" />
<circle cx="306.9" cy="962.2" r="7.5" fill="#ff0000" />
<circle cx="330.9" cy="962.2" r="7.5" fill="#ff0000" />
<circle cx="354.9" cy="962.2" r="7.5" fill="#ff0000" />
<circle cx="378.8" cy="962.2" r="7.5" fill="#ff0000" />
<circle cx="402.8" cy="962.2" r="7.5" fill="#ff0000" />
<circle cx="426.8" cy="962.2" r="7.5" fill="#ff0000" />
<circle cx="450.8" cy="962.2" r="7.5" fill="#ff0000" />
<circle cx="474.7" cy="962.2" r="7.5" fill="#ff0000" />
<circle cx="498.7" cy="962.2" r="7.5" fill="#ff0000" />
<circle cx="522.7" cy="962.2" r="7.5" fill="#ff0000" />
<circle cx="546.7" cy="962.2" r="7.5" fill="#00ff00" />
<circle cx="570.6" cy="962.2" r="7.5" fill="#00ff00" />
<circle cx="594.6" cy="962.2" r="7.5" fill="#ff0000" />
<circle cx="618.6" cy="962.2" r="7.5" fill="#ff0000" />
<circle cx="642.6" cy="962.2" r="7.5" fill="#ff0000" />
<circle cx="666.5" cy="962.2" r="7.5" fill="#ff0000" />
<circle cx="690.5" cy="962.2" r="7.5" fill="#ff0000" />
<circle cx="714.5" cy="962.2" r="7.5" fill="#ff0000" />
<circle cx="738.5" cy="962.2" r="7.5" fill="#ff0000" />
<circle cx="762.5" cy="962.2" r="7.5" fill="#ff0000" />
<circle cx="786.4" cy="962.2" r="7.5" fill="#ff0000" />
<circle cx="810.4" cy="962.2" r="7.5" fill="#ff0000" />
<circle cx="834.4" cy="962.2" r="7.5" fill="#ff0000" />
<circle cx="858.4" cy="962.2" r="7.5" fill="#ff0000" />
<circle cx="882.3" cy="962.2" r="7.5" fill="#ff0000" />
<circle cx="906.3" cy="962.2" r="7.5" fill="#ff0000" />
<circle cx="930.3" cy="962.2" r="7.5" fill="#ff0000" />
<circle cx="954.3" cy="962.2" r="7.5" fill="#ff0000" />
<circle cx="978.2" cy="962.2" r="7.5" fill="#ff0000" />
<circle cx="1002.2" cy="962.2" r="7.5" fill="#ff0000" />
<circle cx="1026.2" cy="962.2" r="7.5" fill="#ff0000" />
<circle cx="1050.2" cy="962.2" r="7.5" fill="#ff0000" />
<circle cx="1074.1" cy="962.2" r="7.5" fill="#ff0000" />
<circle cx="1098.1" cy="962.2" r="7.5" fill="#ff0000" />
<circle cx="1122.1" cy="962.2" r="7.5" fill="#ff0000" />
<circle cx="1146.1" cy="962.2" r="7.5" fill="#ff0000" />
<circle cx="1170.0" cy="962.2" r="7.5" fill="#ff0000" />
<circle cx="1194.0" cy="962.2" r="7.5" fill="#ff0000" />
<circle cx="1218.0" cy="962.2" r="7.5" fill="#ff0000" />
<circle cx="1242.0" cy="962.2" r="7.5" fill="#ff0000" />
<circle cx="1265.9" cy="962.2" r="7.5" fill="#ff0000" />
<circle cx="1289.9" cy="962.2" r="7.5" fill="#ff0000" />
<circle cx="1313.9" cy="962.2" r="7.5" fill="#ff0000" />
<circle cx="1337.9" cy="962.2" r="7.5" fill="#ff0000" />
<circle cx="1361.9" cy="962.2" r="7.5" fill="#ff0000" />
<circle cx="1385.8" cy="962.2" r="7.5" fill="#ff0000" />
<circle cx="1409.8" cy="962.2" r="7.5" fill="#ff0000" />
<circle cx="1433.8" cy="962.2" r="7.5" fill="#ff0000" />
<circle cx="1457.8" cy="962.2" r="7.5" fill="#ff0000" />
<circle cx="1481.7" cy="962.2" r="7.5" fill="#ff0000" />
<circle cx="1505.7" cy="962.2" r="7.5" fill="#ff0000" />
<circle cx="1529.7" cy="962.2" r="7.5" fill="#00ff00" />
<circle cx="1553.7" cy="962.2" r="7.5" fill="#00ff00" />
<circle cx="1577.6" cy="962.2" r="7.5" fill="#00ff00" />
<circle cx="1601.6" cy="962.2" r="7.5" fill="#00ff00" />
<circle cx="1625.6" cy="962.2" r="7.5" fill="#00ff00" />
<circle cx="1649.6" cy="962.2" r="7.5" fill="#00ff00" />
<circle cx="1673.5" cy="962.2" r="7.5" fill="#00ff00" />
<circle cx="1697.5" cy="962.2" r="7.5" fill="#00ff00" />
<circle cx="1721.5" cy="962.2" r="7.5" fill="#00ff00" />
<circle cx="1745.5" cy="962.2" r="7.5" fill="#00ff00" />
<circle cx="1769.4" cy="962.2" r="7.5" fill="#00ff00" />
<circle cx="1793.4" cy="962.2" r="7.5" fill="#00ff00" />
<circle cx="1817.4" cy="962.2" r="7.5" fill="#00ff00" />
<circle cx="1841.4" cy="962.2" r="7.5" fill="#00ff00" />
<circle cx="1865.3" cy="962.2" r="7.5" fill="#00ff00" />
<circle cx="1889.3" cy="962.2" r="7.5" fill="#00ff00" />
<circle cx="1913.3" cy="962.2" r="7.5" fill="#00ff00" />
<circle cx="1937.3" cy="962.2" r="7.5" fill="#00ff00" />
<circle cx="1961.3" cy="962.2" r="7.5" fill="#00ff00" />
<circle cx="1985.2" cy="962.2" r="7.5" fill="#00ff00" />
<circle cx="2009.2" cy="962.2" r="7.5" fill="#00ff00" />
<circle cx="2033.2" cy="962.2" r="7.5" fill="#00ff00" />
<circle cx="2057.2" cy="962.2" r="7.5" fill="#00ff00" />
<circle cx="2081.1" cy="962.2" r="7.5" fill="#00ff00" />
<circle cx="2105.1" cy="962.2" r="7.5" fill="#00ff00" />
<circle cx="2129.1" cy="962.2" r="7.5" fill="#00ff00" />
<circle cx="2153.1" cy="962.2" r="7.5" fill="#00ff00" />
<circle cx="2177.0" cy="962.2" r="7.5" fill="#00ff00" />
<circle cx="2201.0" cy="962.2" r="7.5" fill="#00ff00" />
<circle cx="2225.0" cy="962.2" r="7.5" fill="#00ff00" />
<circle cx="2249.0" cy="962.2" r="7.5" fill="#00ff00" />
<circle cx="2272.9" cy="962.2" r="7.5" fill="#00ff00" />
<circle cx="115.1" cy="977.6" r="7.5" fill="#ff0000" />
<circle cx="139.1" cy="977.6" r="7.5" fill="#ff0000" />
<circle cx="163.1" cy="977.6" r="7.5" fill="#ff0000" />
<circle cx="187.0" cy="977.6" r="7.5" fill="#000000" />
<circle cx="211.0" cy="977.6" r="7.5" fill="#000000" />
<circle cx="235.0" cy="977.6" r="7.5" fill="#000000" />
<circle cx="259.0" cy="977.6" r="7.5" fill="#000000" />
<circle cx="282.9" cy="977.6" r="7.5" fill="#000000" />
<circle cx="306.9" cy="977.6" r="7.5" fill="#000000" />
<circle cx="330.9" cy="977.6" r="7.5" fill="#000000" />
<circle cx="354.9" cy="977.6" r="7.5" fill="#000000" />
<circle cx="378.8" cy="977.6" r="7.5" fill="#000000" />
<circle cx="402.8" cy="977.6" r="7.5" fill="#00ff00" />
<circle cx="426.8" cy="977.6" r="7.5" fill="#00ff00" />
<circle cx="450.8" cy="977.6" r="7.5" fill="#00ff00" />
<circle cx="474.7" cy="977.6" r="7.5" fill="#00ff00" />
<circle cx="498.7" cy="977.6" r="7.5" fill="#00ff00" />
<circle cx="522.7" cy="977.6" r="7.5" fill="#00ff00" />
<circle cx="546.7" cy="977.6" r="7.5" fill="#00ff00" />
<circle cx="570.6" cy="977.6" r="7.5" fill="#00ff00" />
<circle cx="594.6" cy="977.6" r="7.5" fill="#00ff00" />
<circle cx="618.6" cy="977.6" r="7.5" fill="#000000" />
<circle cx="642.6" cy="977.6" r="7.5" fill="#ff0000" />
<circle cx="666.5" cy="977.6" r="7.5" fill="#ff0000" />
<circle cx="690.5" cy="977.6" r="7.5" fill="#ff0000" />
<circle cx="714.5" cy="977.6" r="7.5" fill="#ff0000" />
<circle cx="738.5" cy="977.6" r="7.5" fill="#ff0000" />
<circle cx="762.5" cy="977.6" r="7.5" fill="#ff0000" />
<circle cx="786.4" cy="977.6" r="7.5" fill="#ff0000" />
<circle cx="810.4" cy="977.6" r="7.5" fill="#ff0000" />
<circle cx="834.4" cy="977.6" r="7.5" fill="#ff0000" />
<circle cx="858.4" cy="977.6" r="7.5" fill="#ff0000" />
<circle cx="882.3" cy="977.6" r="7.5" fill="#ff0000" />
<circle cx="906.3" cy="977.6" r="7.5" fill="#ff0000" />
<circle cx="930.3" cy="977.6" r="7.5" fill="#ff0000" />
<circle cx="954.3" cy="977.6" r="7.5" fill="#000000" />
<circle cx="978.2" cy="977.6" r="7.5" fill="#000000" />
<circle cx="1002.2" cy="977.6" r="7.5" fill="#000000" />
<circle cx="1026.2" cy="977.6" r="7.5" fill="#000000" />
<circle cx="1050.2" cy="977.6" r="7.5" fill="#000000" />
<circle cx="1074.1" cy="977.6" r="7.5" fill="#000000" />
<circle cx="1098.1" cy="977.6" r="7.5" fill="#000000" />
<circle cx="1122.1" cy="977.6" r="7.5" fill="#000000" />
<circle cx="1146.1" cy="977.6" r="7.5" fill="#000000" />
<circle cx="1170.0" cy="977.6" r="7.5" fill="#000000" />
<circle cx="1194.0" cy="977.6" r="7.5" fill="#000000" />
<circle cx="1218.0" cy="977.6" r="7.5" fill="#000000" />
<circle cx="1242.0" cy="977.6" r="7.5" fill="#000000" />
<circle cx="1265.9" cy="977.6" r="7.5" fill="#00ff00" />
<circle cx="1289.9" cy="977.6" r="7.5" fill="#00ff00" />
<circle cx="1313.9" cy="977.6" r="7.5" fill="#00ff00" />
<circle cx="1337.9" cy="977.6" r="7.5" fill="#00ff00" />
<circle cx="1361.9" cy="977.6" r="7.5" fill="#00ff00" />
<circle cx="1385.8" cy="977.6" r="7.5" fill="#00ff00" />
<circle cx="1409.8" cy="977.6" r="7.5" fill="#00ff00" />
<circle cx="1433.8" cy="977.6" r="7.5" fill="#00ff00" />
<circle cx="1457.8" cy="977.6" r="7.5" fill="#00ff00" />
<circle cx="1481.7" cy="977.6" r="7.5" fill="#00ff00" />
<circle cx="1505.7" cy="977.6" r="7.5" fill="#00ff00" />
<circle cx="1529.7" cy="977.6" r="7.5" fill="#00ff00" />
<circle cx="1553.7" cy="977.6" r="7.5" fill="#00ff00" />
<circle cx="1577.6" cy="977.6" r="7.5" fill="#00ff00" />
<circle cx="1601.6" cy="977.6" r="7.5" fill="#00ff00" />
<circle cx="1625.6" cy="977.6" r="7.5" fill="#00ff00" />
<circle cx="1649.6" cy="977.6" r="7.5" fill="#00ff00" />
<circle cx="1673.5" cy="977.6" r="7.5" fill="#000000" />
<circle cx="1697.5" cy="977.6" r="7.5" fill="#000000" />
<circle cx="1721.5" cy="977.6" r="7.5" fill="#000000" />
<circle cx="1745.5" cy="977.6" r="7.5" fill="#000000" />
<circle cx="1769.4" cy="977.6" r="7.5" fill="#000000" />
<circle cx="1793.4" cy="977.6" r="7.5" fill="#000000" />
<circle cx="1817.4" cy="977.6" r="7.5" fill="#000000" />
<circle cx="1841.4" cy="977.6" r="7.5" fill="#000000" />
<circle cx="1865.3" cy="977.6" r="7.5" fill="#000000" />
<circle cx="1889.3" cy="977.6" r="7.5" fill="#000000" />
<circle cx="1913.3" cy="977.6" r="7.5" fill="#000000" />
<circle cx="1937.3" cy="977.6" r="7.5" fill="#000000" />
<circle cx="1961.3" cy="977.6" r="7.5" fill="#000000" />
<circle cx="1985.2" cy="977.6" r="7.5" fill="#000000" />
<circle cx="2009.2" cy="977.6" r="7.5" fill="#000000" />
<circle cx="2033.2" cy="977.6" r="7.5" fill="#ff0000" />
<circle cx="2057.2" cy="977.6" r="7.5" fill="#000000" />
<circle cx="2081.1" cy="977.6" r="7.5" fill="#000000" />
<circle cx="2105.1" cy="977.6" r="7.5" fill="#ff0000" />
<circle cx="2129.1" cy="977.6" r="7.5" fill="#ff0000" />
<circle cx="2153.1" cy="977.6" r="7.5" fill="#ff0000" />
<circle cx="2177.0" cy="977.6" r="7.5" fill="#ff0000" />
<circle cx="2201.0" cy="977.6" r="7.5" fill="#ff0000" />
<circle cx="2225.0" cy="977.6" r="7.5" fill="#ff0000" />
<circle cx="2249.0" cy="977.6" r="7.5" fill="#000000" />
<circle cx="2272.9" cy="977.6" r="7.5" fill="#000000" />
<circle cx="115.1" cy="994.6" r="7.5" fill="#ff0000" />
<circle cx="139.1" cy="994.6" r="7.5" fill="#ff0000" />
<circle cx="163.1" cy="994.6" r="7.5" fill="#ff0000" />
<circle cx="187.0" cy="994.6" r="7.5" fill="#000000" />
<circle cx="211.0" cy="994.6" r="7.5" fill="#00ff00" />
<circle cx="235.0" cy="994.6" r="7.5" fill="#00ff00" />
<circle cx="259.0" cy="994.6" r="7.5" fill="#00ff00" />
<circle cx="282.9" cy="994.6" r="7.5" fill="#00ff00" />
<circle cx="306.9" cy="994.6" r="7.5" fill="#00ff00" />
<circle cx="330.9" cy="994.6" r="7.5" fill="#00ff00" />
<circle cx="354.9" cy="994.6" r="7.5" fill="#00ff00" />
<circle cx="378.8" cy="994.6" r="7.5" fill="#00ff00" />
<circle cx="402.8" cy="994.6" r="7.5" fill="#00ff00" />
<circle cx="426.8" cy="994.6" r="7.5" fill="#00ff00" />
<circle cx="450.8" cy="994.6" r="7.5" fill="#00ff00" />
<circle cx="474.7" cy="994.6" r="7.5" fill="#000000" />
<circle cx="498.7" cy="994.6" r="7.5" fill="#000000" />
<circle cx="522.7" cy="994.6" r="7.5" fill="#000000" />
<circle cx="546.7" cy="994.6" r="7.5" fill="#000000" />
<circle cx="570.6" cy="994.6" r="7.5" fill="#000000" />
<circle cx="594.6" cy="994.6" r="7.5" fill="#000000" />
<circle cx="618.6" cy="994.6" r="7.5" fill="#000000" />
<circle cx="642.6" cy="994.6" r="7.5" fill="#ff0000" />
<circle cx="666.5" cy="994.6" r="7.5" fill="#ff0000" />
<circle cx="690.5" cy="994.6" r="7.5" fill="#ff0000" />
<circle cx="714.5" cy="994.6" r="7.5" fill="#ff0000" />
<circle cx="738.5" cy="994.6" r="7.5" fill="#ff0000" />
<circle cx="762.5" cy="994.6" r="7.5" fill="#ff0000" />
<circle cx="786.4" cy="994.6" r="7.5" fill="#ff0000" />
<circle cx="810.4" cy="994.6" r="7.5" fill="#ff0000" />
<circle cx="834.4" cy="994.6" r="7.5" fill="#ff0000" />
<circle cx="858.4" cy="994.6" r="7.5" fill="#ff0000" />
<circle cx="882.3" cy="994.6" r="7.5" fill="#ff0000" />
<circle cx="906.3" cy="994.6" r="7.5" fill="#000000" />
<circle cx="930.3" cy="994.6" r="7.5" fill="#000000" />
<circle cx="954.3" cy="994.6" r="7.5" fill="#000000" />
<circle cx="978.2" cy="994.6" r="7.5" fill="#000000" />
<circle cx="1002.2" cy="994.6" r="7.5" fill="#000000" />
<circle cx="1026.2" cy="994.6" r="7.5" fill="#00ff00" />
<circle cx="1050.2" cy="994.6" r="7.5" fill="#00ff00" />
<circle cx="1074.1" cy="994.6" r="7.5" fill="#00ff00" />
<circle cx="1098.1" cy="994.6" r="7.5" fill="#00ff00" />
<circle cx="1122.1" cy="994.6" r="7.5" fill="#00ff00" />
<circle cx="1146.1" cy="994.6" r="7.5" fill="#00ff00" />
<circle cx="1170.0" cy="994.6" r="7.5" fill="#00ff00" />
<circle cx="1194.0" cy="994.6" r="7.5" fill="#00ff00" />
<circle cx="1218.0" cy="994.6" r="7.5" fill="#00ff00" />
<circle cx="1242.0" cy="994.6" r="7.5" fill="#000000" />
<circle cx="1265.9" cy="994.6" r="7.5" fill="#000000" />
<circle cx="1289.9" cy="994.6" r="7.5" fill="#000000" />
<circle cx="1313.9" cy="994.6" r="7.5" fill="#000000" />
<circle cx="1337.9" cy="994.6" r="7.5" fill="#000000" />
<circle cx="1361.9" cy="994.6" r="7.5" fill="#000000" />
<circle cx="1385.8" cy="994.6" r="7.5" fill="#000000" />
<circle cx="1409.8" cy="994.6" r="7.5" fill="#000000" />
<circle cx="1433.8" cy="994.6" r="7.5" fill="#000000" />
<circle cx="1457.8" cy="994.6" r="7.5" fill="#000000" />
<circle cx="1481.7" cy="994.6" r="7.5" fill="#00ff00" />
<circle cx="1505.7" cy="994.6" r="7.5" fill="#00ff00" />
<circle cx="1529.7" cy="994.6" r="7.5" fill="#00ff00" />
<circle cx="1553.7" cy="994.6" r="7.5" fill="#00ff00" />
<circle cx="1577.6" cy="994.6" r="7.5" fill="#00ff00" />
<circle cx="1601.6" cy="994.6" r="7.5" fill="#00ff00" />
<circle cx="1625.6" cy="994.6" r="7.5" fill="#00ff00" />
<circle cx="1649.6" cy="994.6" r="7.5" fill="#00ff00" />
<circle cx="1673.5" cy="994.6" r="7.5" fill="#000000" />
<circle cx="1697.5" cy="994.6" r="7.5" fill="#000000" />
<circle cx="1721.5" cy="994.6" r="7.5" fill="#000000" />
<circle cx="1745.5" cy="994.6" r="7.5" fill="#000000" />
<circle cx="1769.4" cy="994.6" r="7.5" fill="#000000" />
<circle cx="1793.4" cy="994.6" r="7.5" fill="#000000" />
<circle cx="1817.4" cy="994.6" r="7.5" fill="#000000" />
<circle cx="1841.4" cy="994.6" r="7.5" fill="#000000" />
<circle cx="1865.3" cy="994.6" r="7.5" fill="#000000" />
<circle cx="1889.3" cy="994.6" r="7.5" fill="#000000" />
<circle cx="1913.3" cy="994.6" r="7.5" fill="#000000" />
<circle cx="1937.3" cy="994.6" r="7.5" fill="#ff0000" />
<circle cx="1961.3" cy="994.6" r="7.5" fill="#ff0000" />
<circle cx="1985.2" cy="994.6" r="7.5" fill="#ff0000" />
<circle cx="2009.2" cy="994.6" r="7.5" fill="#ff0000" />
<circle cx="2033.2" cy="994.6" r="7.5" fill="#ff0000" />
<circle cx="2057.2" cy="994.6" r="7.5" fill="#ff0000" />
<circle cx="2081.1" cy="994.6" r="7.5" fill="#000000" />
<circle cx="2105.1" cy="994.6" r="7.5" fill="#000000" />
<circle cx="2129.1" cy="994.6" r="7.5" fill="#ff0000" />
<circle cx="2153.1" cy="994.6" r="7.5" fill="#ff0000" />
<circle cx="2177.0" cy="994.6" r="7.5" fill="#ff0000" />
<circle cx="2201.0" cy="994.6" r="7.5" fill="#ff0000" />
<circle cx="2225.0" cy="994.6" r="7.5" fill="#000000" />
<circle cx="2249.0" cy="994.6" r="7.5" fill="#000000" />
<circle cx="2272.9" cy="994.6" r="7.5" fill="#00ff00" />
<circle cx="115.1" cy="1011.2" r="7.5" fill="#ff0000" />
<circle cx="139.1" cy="1011.2" r="7.5" fill="#ff0000" />
<circle cx="163.1" cy="1011.2" r="7.5" fill="#ff0000" />
<circle cx="187.0" cy="1011.2" r="7.5" fill="#ff0000" />
<circle cx="211.0" cy="1011.2" r="7.5" fill="#ff0000" />
<circle cx="235.0" cy="1011.2" r="7.5" fill="#ff0000" />
<circle cx="259.0" cy="1011.2" r="7.5" fill="#ff0000" />
<circle cx="282.9" cy="1011.2" r="7.5" fill="#ff0000" />
<circle cx="306.9" cy="1011.2" r="7.5" fill="#ff0000" />
<circle cx="330.9" cy="1011.2" r="7.5" fill="#ff0000" />
<circle cx="354.9" cy="1011.2" r="7.5" fill="#ff0000" />
<circle cx="378.8" cy="1011.2" r="7.5" fill="#ff0000" />
<circle cx="402.8" cy="1011.2" r="7.5" fill="#ffff00" />
<circle cx="426.8" cy="1011.2" r="7.5" fill="#ffff00" />
<circle cx="450.8" cy="1011.2" r="7.5" fill="#00ff00" />
<circle cx="474.7" cy="1011.2" r="7.5" fill="#00ff00" />
<circle cx="498.7" cy="1011.2" r="7.5" fill="#00ff00" />
<circle cx="522.7" cy="1011.2" r="7.5" fill="#00ff00" />
<circle cx="546.7" cy="1011.2" r="7.5" fill="#00ff00" />
<circle cx="570.6" cy="1011.2" r="7.5" fill="#00ff00" />
<circle cx="594.6" cy="1011.2" r="7.5" fill="#00ff00" />
<circle cx="618.6" cy="1011.2" r="7.5" fill="#00ff00" />
<circle cx="642.6" cy="1011.2" r="7.5" fill="#000000" />
<circle cx="666.5" cy="1011.2" r="7.5" fill="#000000" />
<circle cx="690.5" cy="1011.2" r="7.5" fill="#ff0000" />
<circle cx="714.5" cy="1011.2" r="7.5" fill="#ff0000" />
<circle cx="738.5" cy="1011.2" r="7.5" fill="#ff0000" />
<circle cx="762.5" cy="1011.2" r="7.5" fill="#ff0000" />
<circle cx="786.4" cy="1011.2" r="7.5" fill="#ff0000" />
<circle cx="810.4" cy="1011.2" r="7.5" fill="#ff0000" />
<circle cx="834.4" cy="1011.2" r="7.5" fill="#ff0000" />
<circle cx="858.4" cy="1011.2" r="7.5" fill="#ff0000" />
<circle cx="882.3" cy="1011.2" r="7.5" fill="#ff0000" />
<circle cx="906.3" cy="1011.2" r="7.5" fill="#ff0000" />
<circle cx="930.3" cy="1011.2" r="7.5" fill="#ff0000" />
<circle cx="954.3" cy="1011.2" r="7.5" fill="#ff0000" />
<circle cx="978.2" cy="1011.2" r="7.5" fill="#ff0000" />
<circle cx="1002.2" cy="1011.2" r="7.5" fill="#ff0000" />
<circle cx="1026.2" cy="1011.2" r="7.5" fill="#ff0000" />
<circle cx="1050.2" cy="1011.2" r="7.5" fill="#ff0000" />
<circle cx="1074.1" cy="1011.2" r="7.5" fill="#ff0000" />
<circle cx="1098.1" cy="1011.2" r="7.5" fill="#ff0000" />
<circle cx="1122.1" cy="1011.2" r="7.5" fill="#ff0000" />
<circle cx="1146.1" cy="1011.2" r="7.5" fill="#ff0000" />
<circle cx="1170.0" cy="1011.2" r="7.5" fill="#ff0000" />
<circle cx="1194.0" cy="1011.2" r="7.5" fill="#ff0000" />
<circle cx="1218.0" cy="1011.2" r="7.5" fill="#ff0000" />
<circle cx="1242.0" cy="1011.2" r="7.5" fill="#ff0000" />
<circle cx="1265.9" cy="1011.2" r="7.5" fill="#ffff00" />
<circle cx="1289.9" cy="1011.2" r="7.5" fill="#ffff00" />
<circle cx="1313.9" cy="1011.2" r="7.5" fill="#00ff00" />
<circle cx="1337.9" cy="1011.2" r="7.5" fill="#00ff00" />
<circle cx="1361.9" cy="1011.2" r="7.5" fill="#00ff00" />
<circle cx="1385.8" cy="1011.2" r="7.5" fill="#00ff00" />
<circle cx="1409.8" cy="1011.2" r="7.5" fill="#00ff00" />
<circle cx="1433.8" cy="1011.2" r="7.5" fill="#00ff00" />
<circle cx="1457.8" cy="1011.2" r="7.5" fill="#00ff00" />
<circle cx="1481.7" cy="1011.2" r="7.5" fill="#00ff00" />
<circle cx="1505.7" cy="1011.2" r="7.5" fill="#00ff00" />
<circle cx="1529.7" cy="1011.2" r="7.5" fill="#00ff00" />
<circle cx="1553.7" cy="1011.2" r="7.5" fill="#00ff00" />
<circle cx="1577.6" cy="1011.2" r="7.5" fill="#00ff00" />
<circle cx="1601.6" cy="1011.2" r="7.5" fill="#00ff00" />
<circle cx="1625.6" cy="1011.2" r="7.5" fill="#00ff00" />
<circle cx="1649.6" cy="1011.2" r="7.5" fill="#00ff00" />
<circle cx="1673.5" cy="1011.2" r="7.5" fill="#00ff00" />
<circle cx="1697.5" cy="1011.2" r="7.5" fill="#00ff00" />
<circle cx="1721.5" cy="1011.2" r="7.5" fill="#00ff00" />
<circle cx="1745.5" cy="1011.2" r="7.5" fill="#00ff00" />
<circle cx="1769.4" cy="1011.2" r="7.5" fill="#00ff00" />
<circle cx="1793.4" cy="1011.2" r="7.5" fill="#00ff00" />
<circle cx="1817.4" cy="1011.2" r="7.5" fill="#00ff00" />
<circle cx="1841.4" cy="1011.2" r="7.5" fill="#00ff00" />
<circle cx="1865.3" cy="1011.2" r="7.5" fill="#00ff00" />
<circle cx="1889.3" cy="1011.2" r="7.5" fill="#00ff00" />
<circle cx="1913.3" cy="1011.2" r="7.5" fill="#00ff00" />
<circle cx="1937.3" cy="1011.2" r="7.5" fill="#00ff00" />
<circle cx="1961.3" cy="1011.2" r="7.5" fill="#00ff00" />
<circle cx="1985.2" cy="1011.2" r="7.5" fill="#00ff00" />
<circle cx="2009.2" cy="1011.2" r="7.5" fill="#00ff00" />
<circle cx="2033.2" cy="1011.2" r="7.5" fill="#000000" />
<circle cx="2057.2" cy="1011.2" r="7.5" fill="#067a06" />
<circle cx="2081.1" cy="1011.2" r="7.5" fill="#067a06" />
<circle cx="2105.1" cy="1011.2" r="7.5" fill="#ff0000" />
<circle cx="2129.1" cy="1011.2" r="7.5" fill="#ff0000" />
<circle cx="2153.1" cy="1011.2" r="7.5" fill="#ff0000" />
<circle cx="2177.0" cy="1011.2" r="7.5" fill="#ff0000" />
<circle cx="2201.0" cy="1011.2" r="7.5" fill="#ff0000" />
<circle cx="2225.0" cy="1011.2" r="7.5" fill="#ff0000" />
<circle cx="2249.0" cy="1011.2" r="7.5" fill="#ff0000" />
<circle cx="2272.9" cy="1011.2" r="7.5" fill="#ff0000" />
</g>
<g stroke="#fff" stroke-width="8" stroke-linejoin="round" paint-order="stroke" fill="#131313">
<path d="M121.6 970.2 H145.4 V998.2 H133.4 V981.4 H121.6 Z"/>
<circle cx="154.4" cy="975.6" r="5.4"/>
<path d="M167.7 970.2 H179.8 L170.6 998.2 H155.6 Z"/>
<text x="194.5" y="998.4" font-size="39" font-weight="bold" textLength="236.5" lengthAdjust="spacingAndGlyphs">TradingView</text>
</g>
<text x="113.2" y="1062.4" font-size="22" fill="#131722" text-anchor="middle" font-weight="normal" stroke="#131722" stroke-width="0.45" >29</text>
<text x="305.1" y="1062.4" font-size="22" fill="#131722" text-anchor="middle" font-weight="normal" stroke="#131722" stroke-width="0.45" >30</text>
<text x="497.1" y="1062.4" font-size="22" fill="#131722" text-anchor="middle" font-weight="normal" stroke="#131722" stroke-width="0.45" >31</text>
<text x="689.8" y="1062.5" font-size="22" fill="#131722" text-anchor="middle" font-weight="bold" textLength="40.6" lengthAdjust="spacingAndGlyphs" >Aug</text>
<text x="881.0" y="1062.4" font-size="22" fill="#131722" text-anchor="middle" font-weight="normal" stroke="#131722" stroke-width="0.45" >4</text>
<text x="1073.0" y="1062.4" font-size="22" fill="#131722" text-anchor="middle" font-weight="normal" stroke="#131722" stroke-width="0.45" >5</text>
<text x="1264.9" y="1062.4" font-size="22" fill="#131722" text-anchor="middle" font-weight="normal" stroke="#131722" stroke-width="0.45" >6</text>
<text x="1456.8" y="1062.4" font-size="22" fill="#131722" text-anchor="middle" font-weight="normal" stroke="#131722" stroke-width="0.45" >7</text>
<text x="1648.8" y="1062.4" font-size="22" fill="#131722" text-anchor="middle" font-weight="normal" stroke="#131722" stroke-width="0.45" >8</text>
<text x="1840.8" y="1062.4" font-size="22" fill="#131722" text-anchor="middle" font-weight="normal" stroke="#131722" stroke-width="0.45" >11</text>
<text x="2032.7" y="1062.4" font-size="22" fill="#131722" text-anchor="middle" font-weight="normal" stroke="#131722" stroke-width="0.45" >12</text>
<text x="2224.6" y="1062.4" font-size="22" fill="#131722" text-anchor="middle" font-weight="normal" stroke="#131722" stroke-width="0.45" >13</text>
<text x="2416.6" y="1062.4" font-size="22" fill="#131722" text-anchor="middle" font-weight="normal" stroke="#131722" stroke-width="0.45" >14</text>
<rect x="98" y="1079.8" width="2387.2" height="1.3" fill="#e6e7ea"/>
<text x="127.2" y="1128.2" font-size="26.8" fill="#131722" text-anchor="start" font-weight="normal" textLength="28.6" lengthAdjust="spacingAndGlyphs" stroke="#131722" stroke-width="0.45" >1T</text>
<text x="181.0" y="1128.2" font-size="26.8" fill="#131722" text-anchor="start" font-weight="normal" textLength="28.9" lengthAdjust="spacingAndGlyphs" stroke="#131722" stroke-width="0.45" >5T</text>
<text x="235.6" y="1128.2" font-size="26.8" fill="#131722" text-anchor="start" font-weight="normal" textLength="32.2" lengthAdjust="spacingAndGlyphs" stroke="#131722" stroke-width="0.45" >1M</text>
<text x="292.5" y="1128.2" font-size="26.8" fill="#131722" text-anchor="start" font-weight="normal" textLength="32.7" lengthAdjust="spacingAndGlyphs" stroke="#131722" stroke-width="0.45" >3M</text>
<text x="348.5" y="1128.2" font-size="26.8" fill="#131722" text-anchor="start" font-weight="normal" textLength="34.1" lengthAdjust="spacingAndGlyphs" stroke="#131722" stroke-width="0.45" >6M</text>
<text x="406.4" y="1128.2" font-size="26.8" fill="#131722" text-anchor="start" font-weight="normal" textLength="47.6" lengthAdjust="spacingAndGlyphs" stroke="#131722" stroke-width="0.45" >YTD</text>
<text x="479.2" y="1128.2" font-size="26.8" fill="#131722" text-anchor="start" font-weight="normal" textLength="25.2" lengthAdjust="spacingAndGlyphs" stroke="#131722" stroke-width="0.45" >1J</text>
<text x="529.7" y="1128.2" font-size="26.8" fill="#131722" text-anchor="start" font-weight="normal" textLength="26.0" lengthAdjust="spacingAndGlyphs" stroke="#131722" stroke-width="0.45" >5J</text>
<text x="580.9" y="1128.2" font-size="26.8" fill="#131722" text-anchor="start" font-weight="normal" textLength="46.2" lengthAdjust="spacingAndGlyphs" stroke="#131722" stroke-width="0.45" >Alle</text>
<rect x="647.5" y="1097" width="1.2" height="42" fill="#e6e7ea"/>
<g fill="none" stroke="#2a2e39" stroke-width="2.1" stroke-linecap="round" stroke-linejoin="round">
<path d="M676.8 1116 V1108 Q676.8 1103.6 681.2 1103.6 H706 Q710.4 1103.6 710.4 1108 V1129 Q710.4 1133.4 706 1133.4 H693.8"/>
<path d="M676.8 1111.8 H710.4 M686.4 1099.2 V1106 M700 1099.2 V1106"/>
<path d="M674.2 1127 H688.2 M682 1120.6 L688.6 1127 L682 1133.6"/>
</g>
<g clip-path="url(#chart)">
<text x="2262.6" y="1129.1" font-size="27.5" fill="#131722" text-anchor="start" font-weight="normal" textLength="190.8" lengthAdjust="spacingAndGlyphs" stroke="#131722" stroke-width="0.45" >13:03:49 UTC+2</text>
<text x="2479.4" y="1129.1" font-size="27.5" fill="#131722" text-anchor="start" font-weight="normal" stroke="#131722" stroke-width="0.45" >F</text>
</g>
<rect x="107.2" y="15.2" width="510" height="46" rx="8" fill="#fff" stroke="#e9e9eb" stroke-width="1.7"/>
<rect x="108.6" y="16.8" width="227" height="42.8" rx="6.5" fill="#f4f4f5"/>
<circle cx="133.2" cy="38.8" r="18" fill="#2a6cb0" />
<g fill="none" stroke="#fff" stroke-width="2.2" stroke-linecap="butt" stroke-linejoin="miter"><path d="M125.6 29.8 L134.3 38.9 L125.6 48"/><path d="M141 30.2 L135.9 34.5 M135.9 43.3 L141 47.5"/></g>
<text x="160.9" y="48.7" font-size="31.5" fill="#131722" text-anchor="start" font-weight="normal" textLength="166.8" lengthAdjust="spacingAndGlyphs" stroke="#131722" stroke-width="0.45" >DAX Futures</text>
<text x="337.5" y="48.7" font-size="31.5" fill="#131722" text-anchor="start" font-weight="normal" stroke="#131722" stroke-width="0.45" >·</text>
<text x="354.6" y="48.7" font-size="31.5" fill="#131722" text-anchor="start" font-weight="normal" textLength="29.1" lengthAdjust="spacingAndGlyphs" stroke="#131722" stroke-width="0.45" >3h</text>
<text x="394.6" y="48.7" font-size="31.5" fill="#131722" text-anchor="start" font-weight="normal" stroke="#131722" stroke-width="0.45" >·</text>
<text x="411.7" y="48.7" font-size="31.5" fill="#131722" text-anchor="start" font-weight="normal" textLength="87.4" lengthAdjust="spacingAndGlyphs" stroke="#131722" stroke-width="0.45" >EUREX</text>
<path d="M522 28 H546 L539.5 39 L546 50 H522 Z" fill="#d3d4d6"/>
<circle cx="577.0" cy="39.2" r="2.9" fill="none" stroke="#131722" stroke-width="1.5"/>
<circle cx="589.5" cy="39.2" r="2.9" fill="none" stroke="#131722" stroke-width="1.5"/>
<circle cx="602.2" cy="39.2" r="2.9" fill="none" stroke="#131722" stroke-width="1.5"/>
<text x="638.4" y="48.2" font-size="27" textLength="94.8" lengthAdjust="spacingAndGlyphs"><tspan fill="#131722" stroke="#131722" stroke-width="0.45">O</tspan><tspan fill="#1a9c86" stroke="#1a9c86" stroke-width="0.45">24.220</tspan></text>
<text x="745.2" y="48.2" font-size="27" textLength="94.3" lengthAdjust="spacingAndGlyphs"><tspan fill="#131722" stroke="#131722" stroke-width="0.45">H</tspan><tspan fill="#1a9c86" stroke="#1a9c86" stroke-width="0.45">24.310</tspan></text>
<text x="852.0" y="48.2" font-size="27" textLength="90.0" lengthAdjust="spacingAndGlyphs"><tspan fill="#131722" stroke="#131722" stroke-width="0.45">L</tspan><tspan fill="#1a9c86" stroke="#1a9c86" stroke-width="0.45">24.208</tspan></text>
<text x="954.8" y="48.2" font-size="27" textLength="90.5" lengthAdjust="spacingAndGlyphs"><tspan fill="#131722" stroke="#131722" stroke-width="0.45">C</tspan><tspan fill="#1a9c86" stroke="#1a9c86" stroke-width="0.45">24.271</tspan></text>
<text x="1060.2" y="48.2" font-size="27" fill="#1a9c86" text-anchor="start" font-weight="normal" textLength="142.6" lengthAdjust="spacingAndGlyphs" stroke="#1a9c86" stroke-width="0.45" >+55 (+0,23%)</text>
<rect x="114.5" y="71.2" width="133.7" height="64.2" rx="10" fill="#fff" stroke="#f4606c" stroke-width="1.3"/>
<text x="181.4" y="97.6" font-size="22.5" fill="#f23645" text-anchor="middle" font-weight="bold" textLength="75.0" lengthAdjust="spacingAndGlyphs" >24.271</text>
<text x="181.6" y="123.8" font-size="20" fill="#f23645" text-anchor="middle" font-weight="normal" textLength="90.8" lengthAdjust="spacingAndGlyphs" stroke="#f23645" stroke-width="0.45" >VERKAUF</text>
<text x="269.6" y="110.7" font-size="19.5" fill="#131722" text-anchor="middle" font-weight="normal" textLength="9.6" lengthAdjust="spacingAndGlyphs" stroke="#131722" stroke-width="0.45" >3</text>
<rect x="291.5" y="71.2" width="117.8" height="64.2" rx="10" fill="#fff" stroke="#5a83ff" stroke-width="1.3"/>
<text x="351.2" y="97.6" font-size="22.5" fill="#2962ff" text-anchor="middle" font-weight="bold" textLength="76.0" lengthAdjust="spacingAndGlyphs" >24.274</text>
<text x="350.5" y="123.8" font-size="20" fill="#2962ff" text-anchor="middle" font-weight="normal" textLength="50.9" lengthAdjust="spacingAndGlyphs" stroke="#2962ff" stroke-width="0.45" >KAUF</text>
<rect x="111.8" y="152.2" width="58.4" height="36" rx="5" fill="#fff" stroke="#e9e9ec" stroke-width="1.4"/>
<path d="M124 168 L131.2 174.6 L138.4 168" fill="none" stroke="#131722" stroke-width="2.4"/>
<text x="150.5" y="179.2" font-size="23.5" fill="#131722" text-anchor="start" font-weight="normal" stroke="#131722" stroke-width="0.45" >2</text>
<rect x="2438.5" y="16" width="45.2" height="44.5" rx="8" fill="#fff" stroke="#e3e4e8" stroke-width="1.4" clip-path="url(#chart)"/>
<path d="M2460.8 31 V47.5 M2453.5 41 L2460.8 48 L2468 41" fill="none" stroke="#131722" stroke-width="2"/>
<rect x="1538" y="506.7" width="362.7" height="58.9" fill="#fff" stroke="#000" stroke-width="4"/>
<text x="1552.5" y="538.8" font-size="24.5" fill="#222" text-anchor="start" font-weight="normal" textLength="318.0" lengthAdjust="spacingAndGlyphs" stroke="#222" stroke-width="0.45" style="stroke-width:1.1px">Wäre das auch ein GÄMA?</text>
<line x1="1819" y1="567.6" x2="2126.8" y2="992.7" stroke="#000" stroke-width="4.9"/>
<rect x="2111.9" y="381.6" width="33.1" height="640.6" fill="none" stroke="#000" stroke-width="6.8"/>
<circle cx="2297.3" cy="832.7" r="21.9" fill="#ffffff" />
<circle cx="2297.3" cy="832.7" r="18.9" fill="#fff" stroke="#9b2bbd" stroke-width="3.1"/>
<path d="M2302.8 822.3 L2289.3 833.6 L2297.6 834.4 L2291.4 843.4 L2304.9 832 L2299 831.3 Z" fill="#9b2bbd" stroke="#9b2bbd" stroke-width="0.8" stroke-linejoin="round"/>
<rect x="0" y="0" width="14.6" height="1153" fill="#000"/>
<rect x="2485.2" y="0" width="15" height="1153" fill="#000"/>
<path d="M14.6 22.5 H65.5 Q73.5 22.5 73.5 30.5 V80.5 Q73.5 88.5 65.5 88.5 H14.6 Z" fill="#f0f0f2"/>
<g fill="none" stroke="#1e222d" stroke-width="1.9" stroke-linecap="round" stroke-linejoin="round">
<path d="M40 34.7 V50.3 M40 63.5 V79 M18 56.5 H33.7 M47.5 56.5 H61.8"/>
<circle cx="21.9" cy="147.5" r="3.8"/><circle cx="55.9" cy="113.8" r="3.8"/><path d="M24.8 144.6 L53 116.7"/>
<path d="M18 186.7 H60.7" stroke-width="3"/><path d="M18 198.8 H56 M18 210.6 H60.7 M23 221.6 H60.7"/><circle cx="60" cy="198.8" r="3.8"/><circle cx="19" cy="222" r="3.8"/>
<circle cx="28.8" cy="263.7" r="3.8"/><circle cx="52" cy="265.8" r="3.8"/><circle cx="36" cy="277.6" r="3.8"/><circle cx="22.2" cy="297.4" r="3.8"/><circle cx="58.3" cy="290.8" r="3.8"/>
<path d="M23.2 293.6 L28 267.5 M30.6 267.1 L34.3 274.2 M33.8 280.7 L24.4 294.3 M39.2 275.4 L48.8 267.9 M53 269.5 L57.3 287.1 M54.9 289 L39.4 279.3"/>
<circle cx="20.8" cy="340.7" r="3.8"/><circle cx="20.8" cy="360.9" r="3.8"/><circle cx="56.2" cy="360.2" r="3.8"/><circle cx="20.8" cy="372.3" r="3.8"/>
<path d="M24.6 340.2 H59 M24.6 360.7 H52.4 M24.6 372.2 H59"/><path d="M29.5 355.6 L56 344.5" stroke-dasharray="2.2 3.6"/>
<path d="M17.3 446.4 C22 441 25 436 27.2 431.3 C29 427 32 425.5 35.5 425.5 C41 425.5 45.4 430 45.4 436 C45.4 442 41 446 34 446.2 Z"/><path d="M47.5 415.1 Q42.6 418 44.2 421.8 Q47 427.6 52 426.9 Q54.2 426.5 56 424.5 L65.2 415.1"/>
<path d="M25 493.5 V487.8 H55.5 V493.5 M40.2 487.8 V519 M34.7 519 H45.8"/>
<circle cx="39.2" cy="577.4" r="20.4"/><path d="M33 582.5 Q39.2 588.5 45.4 582.5"/>
</g>
<circle cx="33.7" cy="574.8" r="1.9" fill="#1e222d" />
<circle cx="45.1" cy="574.8" r="1.9" fill="#1e222d" />
<rect x="14.6" y="627.5" width="60" height="1.2" fill="#e3e4e8"/>
<rect x="14.6" y="802.2" width="60" height="1.2" fill="#e3e4e8"/>
<rect x="14.6" y="1125.8" width="60" height="1.2" fill="#e3e4e8"/>
<g fill="none" stroke="#1e222d" stroke-width="1.9" stroke-linecap="round" stroke-linejoin="round">
<g transform="translate(39.9 677.5) rotate(-43.2)"><rect x="-23.8" y="-7" width="47.6" height="14" rx="1.5"/><path d="M-17 -7 V-1 M-10.2 -7 V-2.5 M-3.4 -7 V-1 M3.4 -7 V-2.5 M10.2 -7 V-1 M17 -7 V-2.5"/></g>
<circle cx="35.7" cy="749.1" r="15.2"/><path d="M28.5 749.1 H43 M35.7 742 V756.3 M46.8 760.2 L54.5 767.5"/>
<path d="M24.2 869 V849 C24.2 828.2 54.2 828.2 54.2 849 V869 H44.2 V849 C44.2 842 34.2 842 34.2 849 V869 Z M24.2 861.3 H34.2 M44.2 861.3 H54.2"/>
<path d="M18.4 937.5 L21 927.5 L40.5 909.5 Q43 907.5 45.5 910 L47.3 911.8 Q49.5 914.5 47 917 L28.5 935 Z M21 927.5 L28.5 935 M37 912.8 L44.2 920"/>
<rect x="42.4" y="937.2" width="16" height="10.2" rx="1.5"/><path d="M46.4 937 V932 Q46.4 927 50.5 927 Q54 927 54.5 930.2"/><path d="M50.3 941.5 V943.6" stroke-width="2.2"/>
<rect x="24.2" y="998.6" width="30" height="22.6" rx="4"/><path d="M32.5 998.4 V992.5 Q32.5 985.2 39.5 985.2 Q44.8 985.2 46 991.4"/><path d="M38.9 1006.6 V1012.6" stroke-width="3"/>
<path d="M19.1 1068.8 C28 1051 46.5 1051 55.5 1068.8 C46.5 1086.5 28 1086.5 19.1 1068.8 Z"/><circle cx="37.3" cy="1068.8" r="6.4"/>
<path d="M39.7 1097.4 L45.5 1091.8 Q48.5 1089.4 51 1091.2 Q53.6 1093.6 50.8 1096.2 Q49.2 1097.4 46.5 1097.4 Z M54.2 1087 Q53.4 1090.4 56.2 1090.4 Q57.4 1090.2 58.4 1089 L61 1086.4" stroke-width="1.6"/>
</g>
</svg>
</body></html>
